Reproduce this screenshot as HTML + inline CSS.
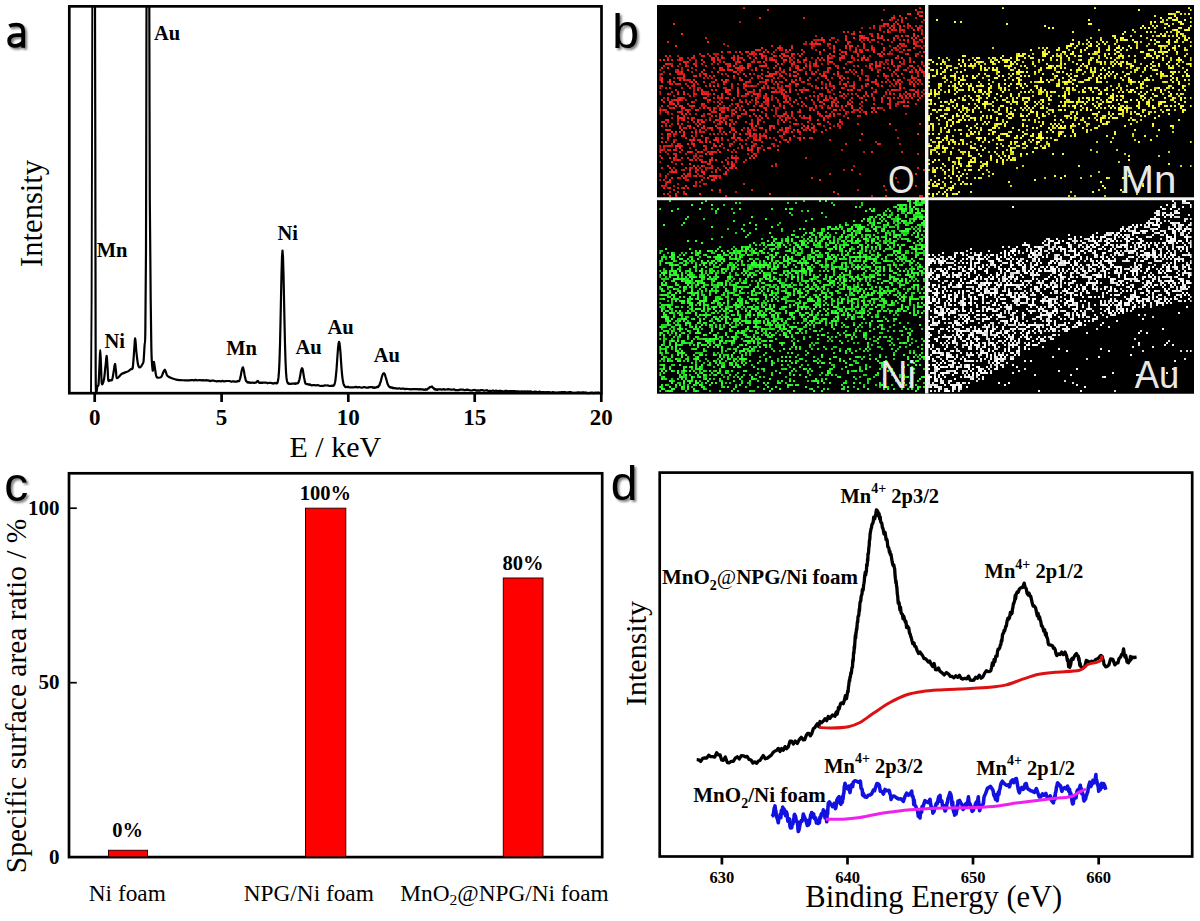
<!DOCTYPE html>
<html><head><meta charset="utf-8"><title>Figure</title>
<style>html,body{margin:0;padding:0;background:#fff;width:1200px;height:921px;overflow:hidden}svg{display:block}</style>
</head><body><svg width="1200" height="921" viewBox="0 0 1200 921"><g id="pa"><path d="M91.0 392.5L91.6 300.0L92.0 150.0L92.3 6.5" fill="none" stroke="#000" stroke-width="1.9" stroke-linejoin="round"/><path d="M95.0 6.5C95.0 30.4 95.2 96.1 95.3 150.0C95.4 203.9 95.5 290.1 95.6 330.0C95.7 369.9 95.6 380.3 95.9 389.6C96.2 398.9 97.0 387.0 97.5 386.0C98.0 385.0 98.3 387.1 98.6 383.6C98.9 380.1 99.2 370.6 99.5 365.0C99.8 359.4 100.0 350.0 100.2 350.0C100.5 350.0 100.7 359.4 101.0 365.0C101.3 370.6 101.3 381.2 101.8 383.6C102.3 386.0 103.4 382.2 104.0 379.3C104.6 376.4 105.0 369.9 105.5 366.0C106.0 362.1 106.4 355.6 106.7 355.9C107.0 356.2 107.3 363.9 107.6 368.0C107.9 372.1 107.9 378.3 108.3 380.3C108.7 382.3 109.4 380.1 110.0 380.0C110.6 379.9 111.5 381.1 112.1 379.8C112.7 378.5 113.1 374.6 113.6 372.0C114.1 369.4 114.5 364.2 114.9 364.0C115.3 363.8 115.7 368.6 116.0 371.0C116.3 373.4 116.0 377.7 117.0 378.2C118.0 378.7 120.0 375.0 121.9 373.8C123.8 372.6 126.9 371.9 128.4 371.1C129.9 370.3 130.3 369.6 131.0 369.0C131.7 368.4 132.3 370.5 132.8 367.3C133.3 364.1 133.8 354.8 134.2 350.0C134.6 345.2 134.8 338.2 135.2 338.5C135.6 338.8 135.9 347.6 136.4 352.0C136.9 356.4 137.5 362.6 138.2 365.1C138.9 367.7 139.7 367.5 140.4 367.3C141.1 367.1 142.0 365.1 142.5 364.0C143.0 362.9 143.2 364.0 143.6 360.8C143.9 357.6 144.3 349.7 144.6 345.0C144.9 340.3 145.1 348.4 145.3 332.6C145.5 316.8 145.8 304.4 146.0 250.0C146.2 195.7 146.4 47.1 146.5 6.5" fill="none" stroke="#000" stroke-width="2.2" stroke-linejoin="round"/><path d="M149.3 6.5C149.4 38.8 149.6 151.1 149.8 200.0C150.0 248.9 150.4 275.8 150.7 300.0C150.9 324.2 151.1 334.9 151.3 345.0C151.5 355.1 151.6 357.0 151.8 360.8C152.0 364.6 152.2 366.4 152.4 368.0C152.6 369.6 152.7 371.3 152.9 370.6C153.1 369.9 153.2 365.4 153.4 364.0C153.6 362.6 153.7 361.6 153.9 361.9C154.1 362.2 154.3 364.3 154.6 366.0C154.9 367.7 155.2 370.1 155.5 372.0C155.8 373.9 155.8 376.2 156.7 377.1C157.6 378.0 159.9 377.8 161.0 377.1C162.1 376.4 162.4 374.3 163.0 373.0C163.6 371.7 164.3 369.5 164.8 369.5C165.3 369.5 165.8 371.9 166.2 373.0C166.6 374.1 166.6 375.1 167.5 376.0C168.4 376.9 170.3 377.6 171.9 378.2C173.5 378.8 175.1 379.4 177.3 379.8C179.5 380.2 183.7 380.2 185.0 380.3L185.0 380.3L186.5 380.3L188.0 380.3L189.5 380.3L191.0 380.1L192.5 380.0L194.0 380.4L195.5 379.9L197.0 380.3L198.5 380.2L200.0 380.0L201.5 380.4L203.0 380.1L204.5 380.5L206.0 380.2L207.5 380.3L209.0 380.6L210.5 381.1L212.0 380.5L213.5 380.6L215.0 381.0L216.5 381.4L218.0 381.1L219.5 381.0L221.0 381.5L222.5 380.8L224.0 381.5L225.5 381.1L227.0 381.0L228.5 381.0L230.0 381.2L231.5 381.7L233.0 381.2L234.5 381.6L236.0 381.7L236.5 381.5L237.0 381.6L237.5 381.2L238.0 381.1L238.5 381.1L239.0 381.2L239.5 380.2L240.0 378.8L240.5 377.1L241.0 374.4L241.5 371.5L242.0 369.5L242.5 367.9L243.0 367.4L243.5 369.0L244.0 371.4L244.5 374.5L245.0 377.1L245.5 378.9L246.0 381.0L246.5 381.2L247.0 381.9L247.5 382.5L248.0 382.1L248.5 382.5L249.0 382.1L249.5 382.7L250.0 382.8L250.5 382.6L251.0 382.9L252.5 382.5L254.0 382.8L254.5 382.8L255.0 382.7L255.5 382.5L256.0 382.6L256.5 382.3L257.0 381.4L257.5 381.3L258.0 380.9L258.5 381.9L259.0 382.3L259.5 383.0L260.0 383.0L260.5 382.6L261.0 382.8L261.5 383.0L262.0 382.5L262.5 382.9L263.0 382.6L264.5 382.6L266.0 382.6L267.5 383.3L269.0 382.8L270.5 382.9L272.0 383.1L273.5 383.6L275.0 382.9L275.5 383.2L276.0 383.3L276.5 383.5L277.0 383.2L277.5 382.7L278.0 380.6L278.5 377.4L279.0 371.1L279.5 360.8L280.0 344.6L280.5 322.3L281.0 297.5L281.5 273.9L282.0 256.7L282.5 250.6L283.0 257.1L283.5 274.0L284.0 297.5L284.5 322.6L285.0 344.2L285.5 360.7L286.0 371.8L286.5 377.9L287.0 381.0L287.5 382.7L288.0 383.4L288.5 383.1L289.0 383.9L289.5 383.9L290.0 384.0L290.5 383.9L292.0 383.6L293.5 383.7L295.0 383.4L295.5 383.9L296.0 383.4L296.5 383.4L297.0 383.5L297.5 383.3L298.0 383.2L298.5 382.3L299.0 381.0L299.5 379.3L300.0 376.7L300.5 373.9L301.0 370.7L301.5 369.3L302.0 368.2L302.5 368.7L303.0 371.0L303.5 374.1L304.0 377.2L304.5 379.6L305.0 382.2L305.5 383.6L306.0 383.8L306.5 384.2L307.0 384.0L307.5 384.1L308.0 384.4L308.5 384.3L309.0 384.9L309.5 384.3L310.0 384.3L311.5 385.3L313.0 385.1L314.5 385.0L316.0 385.5L317.5 385.0L319.0 385.5L320.5 386.0L322.0 385.9L323.5 385.8L325.0 385.4L326.5 385.5L328.0 385.4L329.5 386.0L331.0 385.8L331.5 386.0L332.0 385.6L332.5 385.5L333.0 385.9L333.5 385.9L334.0 385.2L334.5 384.2L335.0 382.5L335.5 379.6L336.0 374.9L336.5 369.6L337.0 362.7L337.5 355.2L338.0 348.6L338.5 344.0L339.0 341.8L339.5 343.2L340.0 347.4L340.5 353.0L341.0 360.7L341.5 367.8L342.0 374.0L342.5 378.3L343.0 381.6L343.5 383.8L344.0 385.1L344.5 385.9L345.0 386.6L345.5 387.1L346.0 387.1L346.5 386.9L347.0 387.0L347.5 387.2L348.0 386.6L348.5 387.1L350.0 387.3L351.5 387.3L353.0 387.3L354.5 387.1L356.0 386.8L357.5 387.4L359.0 387.0L360.5 387.5L362.0 387.7L363.5 387.2L365.0 387.2L366.5 387.7L368.0 387.6L369.5 387.1L371.0 387.1L372.5 387.1L373.0 387.8L373.5 387.7L374.0 387.2L374.5 387.8L375.0 387.9L375.5 387.6L376.0 387.3L376.5 387.4L377.0 386.9L377.5 386.6L378.0 387.2L378.5 386.4L379.0 385.6L379.5 385.1L380.0 383.4L380.5 382.3L381.0 380.6L381.5 378.3L382.0 376.5L382.5 375.0L383.0 373.8L383.5 373.4L384.0 373.1L384.5 373.8L385.0 374.6L385.5 376.9L386.0 378.1L386.5 380.0L387.0 381.9L387.5 383.7L388.0 384.6L388.5 386.0L389.0 386.4L389.5 386.9L390.0 387.3L390.5 387.1L391.0 387.6L391.5 387.5L392.0 387.4L392.5 388.2L393.0 387.7L393.5 388.0L394.0 388.3L394.5 388.2L395.0 388.1L395.5 388.3L396.0 388.4L397.5 388.7L399.0 388.3L400.5 388.8L402.0 388.6L403.5 388.6L405.0 389.1L406.5 388.9L408.0 389.0L409.5 389.2L411.0 389.4L412.5 389.0L414.0 389.2L415.5 389.2L417.0 389.2L418.5 389.4L420.0 389.2L421.5 389.3L423.0 389.3L423.5 389.8L424.0 389.6L424.5 389.7L425.0 389.8L425.5 389.2L426.0 389.4L426.5 389.7L427.0 389.6L427.5 388.8L428.0 388.6L428.5 388.5L429.0 387.8L429.5 387.5L430.0 386.9L430.5 387.1L431.0 386.9L431.5 387.0L432.0 386.5L432.5 387.4L433.0 387.8L433.5 387.8L434.0 388.9L434.5 389.3L435.0 388.9L435.5 389.7L436.0 389.3L436.5 389.4L437.0 389.9L437.5 389.8L438.0 389.2L438.5 389.4L439.0 389.5L439.5 389.4L440.0 389.2L440.5 389.4L442.0 389.7L443.5 389.1L445.0 389.6L446.5 389.5L448.0 389.2L449.5 389.4L451.0 389.7L452.5 389.7L454.0 389.3L455.5 390.2L457.0 390.0L458.5 390.2L460.0 389.5L461.5 389.7L463.0 389.5L464.5 390.2L466.0 389.8L467.5 389.7L469.0 390.0L470.5 390.5L472.0 390.4L473.5 390.0L475.0 389.9L476.5 390.7L478.0 390.4L479.5 390.6L481.0 390.1L482.5 390.1L484.0 390.7L485.5 390.5L487.0 390.2L488.5 391.1L490.0 390.8L491.5 391.0L493.0 390.4L494.5 391.2L496.0 390.5L497.5 391.3L499.0 390.9L500.5 390.9L502.0 391.1L503.5 391.5L505.0 390.9L506.5 390.9L508.0 391.3L509.5 391.1L511.0 391.0L512.5 391.1L514.0 391.0L515.5 391.2L517.0 391.3L518.5 391.3L520.0 391.8L521.5 391.4L523.0 391.6L524.5 391.4L526.0 391.5L527.5 391.3L529.0 391.5L530.5 391.3L532.0 392.0L533.5 391.9L535.0 391.6L536.5 391.9L538.0 392.3L539.5 391.6L541.0 392.3L542.5 392.0L544.0 392.1L545.5 392.4L547.0 392.0L548.5 392.2L550.0 392.4L551.5 392.7L553.0 392.1L554.5 392.6L556.0 392.5L557.5 392.5L559.0 392.3L560.5 392.3L562.0 392.0L563.5 392.1L565.0 392.1L566.5 392.7L568.0 392.3L569.5 392.2L571.0 392.2L572.5 392.9L574.0 392.9L575.5 392.8L577.0 392.5L578.5 392.4L580.0 392.5L581.5 392.7L583.0 392.4L584.5 392.7L586.0 392.6L587.5 393.2L589.0 393.2L590.5 392.9L592.0 392.6L593.5 393.3L595.0 392.7L596.5 392.8L598.0 392.5L599.5 392.9" fill="none" stroke="#000" stroke-width="2.2" stroke-linejoin="round"/><rect x="69.3" y="6.35" width="532.2" height="386.85" fill="none" stroke="#000" stroke-width="2.7"/><line x1="94.7" y1="393" x2="94.7" y2="402" stroke="#000" stroke-width="2.7"/><line x1="221.6" y1="393" x2="221.6" y2="402" stroke="#000" stroke-width="2.7"/><line x1="348.3" y1="393" x2="348.3" y2="402" stroke="#000" stroke-width="2.7"/><line x1="474.7" y1="393" x2="474.7" y2="402" stroke="#000" stroke-width="2.7"/><line x1="601.3" y1="393" x2="601.3" y2="402" stroke="#000" stroke-width="2.7"/><g font-family='"Liberation Serif", serif' font-weight="bold" font-size="23" text-anchor="middle"><text x="94.7" y="424.5">0</text><text x="221.6" y="424.5">5</text><text x="348.3" y="424.5">10</text><text x="474.7" y="424.5">15</text><text x="601.3" y="424.5">20</text></g><text x="335.3" y="456.8" font-family='"Liberation Serif", serif' font-size="30" text-anchor="middle">E / keV</text><text transform="translate(42.3 213.4) rotate(-90)" font-family='"Liberation Serif", serif' font-size="30.6" text-anchor="middle">Intensity</text><g font-family='"Liberation Serif", serif' font-weight="bold" font-size="20.5"><text x="154.0" y="39.7">Au</text><text x="96.7" y="257.4">Mn</text><text x="104.4" y="347.8">Ni</text><text x="226.2" y="354.8">Mn</text><text x="277.5" y="240.3">Ni</text><text x="295.5" y="354.4">Au</text><text x="327.5" y="334.4">Au</text><text x="373.8" y="361.9">Au</text></g></g><defs><filter id="bl" x="0" y="0" width="100%" height="100%"><feGaussianBlur stdDeviation="0.55"/></filter></defs><rect x="657" y="5" width="537" height="388.5" fill="#000"/><g filter="url(#bl)"><path d="M743 8h2m174 0h2M915 10h2M921 12h2M907 14h4m6 0h2M899 16h2m18 0h4M759 18h2m132 0h2m10 0h2M673 24h2m208 0h2m2 0h2m8 0h2M891 26h2m6 0h2M889 28h2m2 0h2m22 0h2M891 30h2m20 0h2m2 0h2M843 32h2m42 0h2M681 34h2m170 0h2m22 0h2m34 0h2M859 36h4m8 0h2m8 0h2m18 0h2m4 0h2m4 0h2m2 0h2M853 38h2m6 0h6m10 0h2m2 0h2m10 0h2m16 0h2m2 0h2M821 40h4m20 0h2m12 0h2m6 0h2m4 0h2m12 0h2m14 0h2m8 0h2m4 0h2M707 42h2m102 0h2M811 44h2m2 0h6m26 0h2m14 0h2m34 0h2m12 0h2M675 46h2m156 0h2m10 0h2m2 0h4m44 0h2M761 48h2m14 0h4m10 0h2m40 0h2m10 0h2m24 0h2m10 0h2m28 0h2M755 50h4m26 0h2m2 0h2m32 0h2m30 0h2m2 0h2m6 0h2m4 0h2m28 0h2M721 52h2m16 0h2m4 0h4m14 0h2m2 0h2m50 0h2m12 0h2m6 0h2m2 0h2m8 0h2m4 0h2m10 0h2m48 0h2M751 54h2m6 0h4m18 0h2m8 0h2m8 0h2m26 0h2m14 0h2m32 0h2m2 0h2m22 0h2M665 56h2m94 0h2m10 0h2m4 0h2m2 0h2m14 0h2m26 0h2m86 0h2m4 0h2M711 58h4m6 0h2m26 0h2m4 0h2m24 0h2m6 0h2m26 0h2m8 0h2m10 0h2m22 0h2m30 0h2m4 0h2M659 60h2m2 0h2m2 0h2m10 0h2m20 0h2m30 0h2m8 0h2m20 0h2m4 0h4m8 0h4m10 0h2m4 0h4m12 0h2m40 0h2m2 0h2M683 62h2m28 0h2m24 0h2m22 0h2m10 0h2m52 0h4m16 0h2m24 0h2m14 0h2m6 0h2m12 0h2M665 64h2m26 0h2m82 0h2m2 0h2m8 0h2m22 0h2m54 0h2m18 0h2M671 66h2m22 0h2m32 0h2m2 0h2m12 0h2m12 0h6m8 0h2m28 0h2m2 0h2m58 0h2m4 0h6m18 0h2m8 0h4M661 68h2m4 0h2m50 0h2m16 0h2m4 0h2m2 0h2m6 0h2m22 0h2m16 0h2m4 0h2m24 0h2m6 0h2m4 0h2M687 70h2m14 0h2m18 0h2m4 0h4m8 0h2m12 0h2m32 0h2m8 0h2m48 0h2m10 0h2m8 0h2m22 0h2m8 0h2m8 0h2m2 0h2M681 72h2m18 0h2m14 0h2m14 0h4m38 0h2m6 0h2m8 0h2m42 0h2m16 0h2m20 0h2m14 0h2m14 0h2m10 0h2M703 74h2m38 0h2m4 0h2m18 0h2m2 0h2m30 0h2m6 0h2m8 0h2m12 0h2m44 0h2M683 76h2m10 0h2m16 0h2m18 0h2m32 0h6m8 0h2m6 0h2m2 0h4m26 0h4m58 0h2m10 0h2M661 78h2m76 0h2m20 0h2m36 0h2m24 0h2m12 0h2m2 0h2m14 0h2m50 0h2M661 80h2m6 0h2m8 0h2m2 0h2m8 0h2m20 0h2m4 0h2m2 0h2m14 0h2m22 0h4m16 0h2m8 0h2m10 0h2m58 0h2m6 0h2m16 0h2m4 0h2M661 82h2m6 0h2m2 0h2m16 0h2m2 0h2m6 0h2m18 0h4m48 0h2m14 0h4M743 84h2m20 0h2m10 0h2m10 0h2m4 0h4m30 0h2m12 0h2m22 0h2m26 0h2m2 0h2M693 86h2m14 0h2m2 0h2m2 0h2m26 0h2m4 0h2m32 0h2m58 0h2m18 0h2m14 0h2m30 0h2M761 88h2m4 0h2m48 0h2m2 0h2m2 0h2m6 0h2m6 0h2m10 0h2m16 0h2m26 0h2M697 90h2m2 0h2m22 0h6m6 0h2m20 0h2m28 0h2m14 0h4m38 0h2m2 0h2m38 0h2m18 0h2M657 92h2m24 0h2m40 0h2m10 0h2m10 0h2m20 0h4m10 0h2m2 0h2m10 0h2m36 0h2m34 0h2m28 0h2m8 0h2M667 94h2m8 0h2m4 0h2m16 0h2m2 0h2m6 0h2m6 0h2m6 0h2m14 0h4m4 0h2m2 0h2m6 0h2m76 0h2m20 0h2m4 0h2m16 0h2m22 0h2M783 96h2m56 0h2m14 0h2m4 0h2m2 0h2m30 0h2m4 0h2m2 0h2m10 0h2M679 98h4m20 0h4m14 0h2m40 0h2m24 0h2m14 0h2m18 0h2m8 0h2m14 0h2m8 0h2m18 0h2m4 0h2m12 0h2m8 0h2M661 100h2m12 0h2m2 0h2m28 0h2m20 0h2m22 0h2m10 0h2m16 0h2m24 0h2m10 0h2m40 0h2m22 0h2m26 0h2M663 102h2m4 0h2m20 0h2m48 0h2m40 0h2m2 0h2m4 0h2m6 0h2m16 0h2m10 0h2m28 0h2m40 0h2m2 0h2M673 104h2m26 0h2m16 0h2m26 0h2m74 0h2m22 0h4m22 0h2M675 106h2m2 0h4m10 0h2m42 0h2m20 0h4m10 0h2m30 0h2m8 0h2m14 0h2m2 0h2m8 0h2m4 0h2m50 0h2m2 0h2M673 108h2m6 0h4m18 0h2m2 0h2m12 0h4m2 0h2m6 0h2m46 0h2m66 0h2m6 0h2m10 0h2m4 0h2m10 0h2M659 110h2m2 0h2m20 0h2m8 0h2m12 0h2m22 0h2m8 0h2m6 0h4m2 0h2m6 0h2m42 0h2m2 0h2m18 0h4M679 112h2m6 0h2m32 0h2m12 0h2m54 0h2m6 0h2m64 0h2m4 0h2m2 0h2M681 114h2m2 0h2m32 0h2m12 0h2m48 0h2m48 0h2m30 0h2M677 116h2m22 0h2m46 0h2m8 0h2m4 0h2m14 0h2m4 0h2m10 0h2m24 0h2m2 0h2M679 118h4m36 0h2m16 0h2m22 0h2m46 0h2m12 0h2m22 0h2M667 120h2m14 0h2m6 0h2m4 0h2m16 0h2m6 0h2m56 0h2m2 0h2m30 0h2m4 0h2M663 122h2m32 0h2m2 0h4m20 0h2m30 0h2m24 0h2m22 0h2m18 0h2m10 0h2M677 124h2m20 0h2m24 0h2m2 0h2m2 0h2m16 0h2m4 0h2m36 0h2m20 0h4m68 0h2M689 126h2m6 0h2m4 0h2m10 0h2m12 0h2m20 0h2m2 0h2m12 0h4m30 0h2m2 0h2M679 128h2m12 0h2m6 0h2m6 0h4m34 0h2m10 0h4m6 0h2m2 0h2m10 0h4m12 0h2m4 0h2m2 0h2m16 0h2M665 130h4m12 0h2m50 0h2m6 0h2m36 0h2m4 0h2m10 0h2m10 0h2M671 132h2m2 0h2m2 0h2m2 0h2m10 0h2m32 0h2m4 0h2m48 0h2m4 0h2m20 0h2m6 0h2M667 134h4m12 0h2m40 0h2m6 0h2m4 0h2m8 0h2m2 0h2m28 0h2m76 0h2m54 0h2M657 136h2m24 0h2m6 0h2m8 0h2m30 0h2m14 0h2m14 0h2M667 138h2m36 0h2m8 0h2m4 0h2m8 0h4m2 0h2m20 0h2m28 0h2m8 0h2m2 0h2M689 140h2m2 0h2m10 0h2m8 0h2m38 0h2m2 0h2m24 0h2M661 142h2m10 0h2m30 0h2m2 0h2m76 0h2M687 144h2m4 0h2m26 0h2M675 146h6m22 0h2m10 0h2m2 0h2m8 0h2M679 148h2m30 0h2m34 0h2m8 0h2m8 0h4M657 150h2m14 0h2m52 0h2m18 0h2m2 0h2m4 0h2m18 0h2M659 152h2m26 0h4m6 0h2m2 0h2m8 0h2m6 0h2m150 0h2M705 154h2m2 0h2M675 156h2m74 0h2M661 158h2m6 0h2m2 0h2m36 0h2m18 0h4m14 0h2m2 0h2M677 160h2m12 0h2m16 0h2m4 0h2M701 162h2m6 0h2M681 164h2m6 0h2m40 0h2M667 166h2m24 0h2m6 0h2m28 0h4M669 168h2m24 0h2m28 0h2m4 0h2m2 0h2M689 170h2m160 0h2M657 172h2m12 0h6m18 0h2m4 0h4m20 0h2M703 174h2m20 0h2m188 0h2M681 176h2m2 0h2m8 0h2m12 0h8M671 178h2m10 0h2m22 0h2m6 0h2M669 180h2m30 0h2m8 0h4m104 0h2M667 182h2M685 186h2m6 0h2M669 188h2m12 0h2m2 0h2M711 190h2m6 0h2M833 192h2M675 194h2m8 0h2m12 0h2m68 0h2M669 196h2m214 0h2m32 0h2" stroke="#f82020" stroke-width="2" fill="none"/><path d="M683 6h2m14 0h2M767 10h2M803 18h2m86 0h2M881 20h2m6 0h2m10 0h2M895 22h2m4 0h2M885 24h2m6 0h2m12 0h2M873 26h2m8 0h2m18 0h2m4 0h2m4 0h2M879 28h2m18 0h2m18 0h2M879 30h2m6 0h2m6 0h2m2 0h6m16 0h2M847 32h2m10 0h2M921 34h2M845 36h2m30 0h2m16 0h2M705 38h2m114 0h2m8 0h2m12 0h2m20 0h2m54 0h2M817 40h2m10 0h2m40 0h2m10 0h2m8 0h2m12 0h2M667 42h2m154 0h2m10 0h2m10 0h4m62 0h2m6 0h2M813 44h2m12 0h4m72 0h2m10 0h2M771 46h2m18 0h2m64 0h2m4 0h2m36 0h2m2 0h2m8 0h2M811 48h2m36 0h2m12 0h2m28 0h4m24 0h2M759 50h2m4 0h2m34 0h2m36 0h2m42 0h2m6 0h2m14 0h4M729 52h2m4 0h2m14 0h4m18 0h2m28 0h2m76 0h2M749 54h2m4 0h2m26 0h2m8 0h2m62 0h2m18 0h2m8 0h2m28 0h2M669 56h2m22 0h2m6 0h4m4 0h2m22 0h2m2 0h2m24 0h2m20 0h4m2 0h2m40 0h2m6 0h4m6 0h2m4 0h2m4 0h2m14 0h4m14 0h2M667 58h2m10 0h4m8 0h4m22 0h2m12 0h4m2 0h2m2 0h2m18 0h2m2 0h2m4 0h2m48 0h2m6 0h2m10 0h4m6 0h2m8 0h2m46 0h2M671 60h2m38 0h4m2 0h2m18 0h2m30 0h2m52 0h2m2 0h2m10 0h2m16 0h2m8 0h2m22 0h2m16 0h2M685 62h4m14 0h2m18 0h2m12 0h2m12 0h4m2 0h4m28 0h2m2 0h2m4 0h2m14 0h2m92 0h2m10 0h2M667 64h4m8 0h2m4 0h2m14 0h2m22 0h6m4 0h2m10 0h4m14 0h2m26 0h2m18 0h2m60 0h2m2 0h2M663 66h2m20 0h2m18 0h2m20 0h2m12 0h2m6 0h2m8 0h2m36 0h2m16 0h2m18 0h2m16 0h2m2 0h2m34 0h2m2 0h2m24 0h2M721 68h2m12 0h2m2 0h4m30 0h2m14 0h2m4 0h2m12 0h2m16 0h2m40 0h2m12 0h2m12 0h2m14 0h2m4 0h2M677 70h2m40 0h4m4 0h2m32 0h2m16 0h2m28 0h2m16 0h2m68 0h2M675 72h4m88 0h2m26 0h2m18 0h2m10 0h2m16 0h2m64 0h2m4 0h2m4 0h2M661 74h2m6 0h2m6 0h6m16 0h2m4 0h2m14 0h2m14 0h2m22 0h2m8 0h2m2 0h2m2 0h2m8 0h2m6 0h2m12 0h2m6 0h2m12 0h2m60 0h2m4 0h2M693 76h2m4 0h2m4 0h2m2 0h2m16 0h2m16 0h2m10 0h2m6 0h2m54 0h2m42 0h2m44 0h2m4 0h2M657 78h2m18 0h4m2 0h2m18 0h2m6 0h2m38 0h2m20 0h2m34 0h2m102 0h2M659 80h2m26 0h2m38 0h2m42 0h2m26 0h2m26 0h2m58 0h2m8 0h2m18 0h4M713 82h2m30 0h6m8 0h2m4 0h2m14 0h2m20 0h2m16 0h2m24 0h2m22 0h6m4 0h2m2 0h2m10 0h2m12 0h2M669 84h4m2 0h6m4 0h2m6 0h2m28 0h2m32 0h2m80 0h2m4 0h2m6 0h2m20 0h4m30 0h2m2 0h2m2 0h2M661 86h2m24 0h2m16 0h2m24 0h2m30 0h2m22 0h2m22 0h2m20 0h2m16 0h4m6 0h2M659 88h2m8 0h2m10 0h2m6 0h2m32 0h2m12 0h2m4 0h2m18 0h2m6 0h2M675 90h2m34 0h2m2 0h2m36 0h2m26 0h4m10 0h2m2 0h4m24 0h2m30 0h2m32 0h4m16 0h2M659 92h2m10 0h2m4 0h2m22 0h4m22 0h2m46 0h2m4 0h2m46 0h2m34 0h2m18 0h2m30 0h2M657 94h2m34 0h4m6 0h2m2 0h2m28 0h2m16 0h2m24 0h4m34 0h4m28 0h2m40 0h2m4 0h2m6 0h4m6 0h2M689 96h2m30 0h2m14 0h2m2 0h2m14 0h2m6 0h2m42 0h2m2 0h2m2 0h2m2 0h2m60 0h2M657 98h2m8 0h2m44 0h2m2 0h2m6 0h4m4 0h2m20 0h2m10 0h2m14 0h2m46 0h2m10 0h2m28 0h2m18 0h2m24 0h2M667 100h2m4 0h2m2 0h2m28 0h2m30 0h2m24 0h2m10 0h2m16 0h2m20 0h2m6 0h4m4 0h2m14 0h2m30 0h2M671 102h2m4 0h2m38 0h2m2 0h2m22 0h2m2 0h2m6 0h2m4 0h2m2 0h2m52 0h2m10 0h2m2 0h2m8 0h2m2 0h2m28 0h2m6 0h2m10 0h2M669 104h4m4 0h2m8 0h2m14 0h2m26 0h2m4 0h2m16 0h2m10 0h2m10 0h2m16 0h2m4 0h2m26 0h2m2 0h2m50 0h4m6 0h2m16 0h2M661 106h2m4 0h2m20 0h4m24 0h2m22 0h2m10 0h2m24 0h2m2 0h2m6 0h2m8 0h2m38 0h2m46 0h2M669 108h2m42 0h2m48 0h4m42 0h4m8 0h2m6 0h2m42 0h2M657 110h2m6 0h2m20 0h2m8 0h2m14 0h2m4 0h2m6 0h2m20 0h2m48 0h2m42 0h2m8 0h2m2 0h2m14 0h2M659 112h2m6 0h2m8 0h2m32 0h6m6 0h2m20 0h2m14 0h2m54 0h2m6 0h2m24 0h2m6 0h2M689 114h2m16 0h4m30 0h2m2 0h2m6 0h2m10 0h2m18 0h2m4 0h2m24 0h4m8 0h2m14 0h2M683 116h2m26 0h2m2 0h2m2 0h2m4 0h4m8 0h4m14 0h2m20 0h2m12 0h2m10 0h2m4 0h2m10 0h2m4 0h2m4 0h2m22 0h2M657 118h2m18 0h2m4 0h2m2 0h2m2 0h4m26 0h2m44 0h2m10 0h2m4 0h2m2 0h2m12 0h4M665 120h2m10 0h2m22 0h2m6 0h2m6 0h2m10 0h2m20 0h2m4 0h4m34 0h2m12 0h2m28 0h2M661 122h2m30 0h2m18 0h2m4 0h4m12 0h2m8 0h2M665 124h2m14 0h2m36 0h2m72 0h2m42 0h2m18 0h2m60 0h2M661 126h2m6 0h2m8 0h2m6 0h2m124 0h2M657 128h2m24 0h4m2 0h2m12 0h2m12 0h6m8 0h2m80 0h2m24 0h2M669 130h2m28 0h2m10 0h2m6 0h2m10 0h2m16 0h2m2 0h2m10 0h2m14 0h2m10 0h2m8 0h2m20 0h2M657 132h2m32 0h2m6 0h2m2 0h2m18 0h2m22 0h4m14 0h2m10 0h2m18 0h4M673 134h2m38 0h2m30 0h2m12 0h2M667 136h2m12 0h2m72 0h2m2 0h2m2 0h2m14 0h2m12 0h2M661 138h2m22 0h2m6 0h2m44 0h2m6 0h2m4 0h2m10 0h2m2 0h2m38 0h4M691 140h2m4 0h4m12 0h2m2 0h2m8 0h2m6 0h2m4 0h2m2 0h2m28 0h2m12 0h2m8 0h2m28 0h2M665 142h2m32 0h4m14 0h2m32 0h2m8 0h2m16 0h2M677 144h2m12 0h2m20 0h2m16 0h2m22 0h2m88 0h2m30 0h4M659 146h2m2 0h2m2 0h4m10 0h2m10 0h2m18 0h2m26 0h2m8 0h4m18 0h2M705 148h2m34 0h2m8 0h2M659 150h4m4 0h4m4 0h2m4 0h2m34 0h2m30 0h2m12 0h2M679 152h2m10 0h2m14 0h2m4 0h4m14 0h2m2 0h2m164 0h2M673 154h4m34 0h2m40 0h2m162 0h2M657 156h4m34 0h2m34 0h2m22 0h2M681 158h2m4 0h2m46 0h4m66 0h2M673 160h2m14 0h2m4 0h2m2 0h2m10 0h2m12 0h2m8 0h2m8 0h2M671 162h2m32 0h2m14 0h2m4 0h2m2 0h2m10 0h2M707 164h4m16 0h2m46 0h2M711 166h2m58 0h2M661 168h2m22 0h2m2 0h2m20 0h2m16 0h2m186 0h2M671 170h2m2 0h2m6 0h2m12 0h2m16 0h2m10 0h2m194 0h2M715 172h2M683 174h2m2 0h4m138 0h2M659 176h2m4 0h2m22 0h2m8 0h2m18 0h2M677 178h2m40 0h2m90 0h2m82 0h2M657 180h4m2 0h2m22 0h2M669 182h2m24 0h2M665 184h2m36 0h2m38 0h2M661 186h2m220 0h2m30 0h2M663 188h2m12 0h2M673 190h2m76 0h2m146 0h2M677 192h2m4 0h2M663 194h2m2 0h2m168 0h2M675 196h2m48 0h2m194 0h2" stroke="#e01a1a" stroke-width="2" fill="none"/><path d="M869 6h2M883 10h2M917 12h4M893 16h2M901 18h2m12 0h2M891 20h2m4 0h2m24 0h2M739 22h2m180 0h2M879 26h4m4 0h2m4 0h2m12 0h2m10 0h4M861 28h2m6 0h2m2 0h2m32 0h2m2 0h2M893 30h2M853 32h2m28 0h2m4 0h2m8 0h2m2 0h2m16 0h2M851 34h2m16 0h4M815 36h2m46 0h2m32 0h2m6 0h2M833 38h2m24 0h2m18 0h2m16 0h2M813 40h4m2 0h2m16 0h2m24 0h2m34 0h2m20 0h2M805 42h2m8 0h2m44 0h2m6 0h2m6 0h2m12 0h2m14 0h2m6 0h4M723 44h2m78 0h4m2 0h2m70 0h2m18 0h2M727 46h2m50 0h2m30 0h4m12 0h2m42 0h2m16 0h2m12 0h2m12 0h4m2 0h2M781 48h2m46 0h2m24 0h2m16 0h2m24 0h2M775 50h2m2 0h4m32 0h2m16 0h2m14 0h2m10 0h2m2 0h2m4 0h2m22 0h4M727 52h2m56 0h4m54 0h2m8 0h2m4 0h2m28 0h2m8 0h4m16 0h2M699 54h2m6 0h2m4 0h6m22 0h2m10 0h2m16 0h2m24 0h2m20 0h2m18 0h2m48 0h4m12 0h2m8 0h2M677 56h2m36 0h2m4 0h2m24 0h2m4 0h2m10 0h2m8 0h2m54 0h2m36 0h2M687 58h2m34 0h2m14 0h2m28 0h2m22 0h2m10 0h2m4 0h2m18 0h2m20 0h2m12 0h2m28 0h2M677 60h2m2 0h2m6 0h2m4 0h2m22 0h2m32 0h2m20 0h2m12 0h4m22 0h2m36 0h2m30 0h4m14 0h2M657 62h2m36 0h2m22 0h2m14 0h2m46 0h2m12 0h2m4 0h2m4 0h2m16 0h2m18 0h2m2 0h2m26 0h4m2 0h2m16 0h2M671 64h2m22 0h2m14 0h2m4 0h2m86 0h2m2 0h2m10 0h2m4 0h2m4 0h2m10 0h2m22 0h2m12 0h2m2 0h2m12 0h4m16 0h2M677 66h2m8 0h2m50 0h2m50 0h2m2 0h2m16 0h2m2 0h2m18 0h2m26 0h2m50 0h2M681 68h2m8 0h2m20 0h2m12 0h2m38 0h2m102 0h2m2 0h2m10 0h2m18 0h2M657 70h4m14 0h2m4 0h2m12 0h2m40 0h4m10 0h2m30 0h2m12 0h2m2 0h2m14 0h2m34 0h2m22 0h4m8 0h2m12 0h2m6 0h2m8 0h2M663 72h2m14 0h2m10 0h2m18 0h2m26 0h2m36 0h2m2 0h2m22 0h2m4 0h2m10 0h4m20 0h2m2 0h2m8 0h2m52 0h2M659 74h2m22 0h2m40 0h2m26 0h2m30 0h2m66 0h2m6 0h2m28 0h2m24 0h2m4 0h2M657 76h4m98 0h2m18 0h2m56 0h6m14 0h2m8 0h2m8 0h2m4 0h2m2 0h2m2 0h2m30 0h2M659 78h2m12 0h2m6 0h2m24 0h2m24 0h2m22 0h2m18 0h2m4 0h2m32 0h2m12 0h2m14 0h2m18 0h2m16 0h2m16 0h2m10 0h2M685 80h2m2 0h2m48 0h2m8 0h2m40 0h2m22 0h2m24 0h2m16 0h2m4 0h2m40 0h4m2 0h2M667 82h2m20 0h2m20 0h2m48 0h4m6 0h2m6 0h2m20 0h2m26 0h2m8 0h2m12 0h2m34 0h2m4 0h2m4 0h2m6 0h2m4 0h2m2 0h2M657 84h2m38 0h2m10 0h2m6 0h2m12 0h2m4 0h2m6 0h2m26 0h2m32 0h4m10 0h2m2 0h2m38 0h2m24 0h2m28 0h2M659 86h2m30 0h2m50 0h2m2 0h4m2 0h4m10 0h2m8 0h2m2 0h2m6 0h2m4 0h2m18 0h2m8 0h2m2 0h4m16 0h2m26 0h2m10 0h2m2 0h2m4 0h2M657 88h2m6 0h2m26 0h2m2 0h4m24 0h2m4 0h2m40 0h2m2 0h6m6 0h2m12 0h2m10 0h2m26 0h2m16 0h2m40 0h2M693 90h2m50 0h2m28 0h2m2 0h2m22 0h2m26 0h2m16 0h2m6 0h2m16 0h2m10 0h2m8 0h4m8 0h2m6 0h2m4 0h2M693 92h2m10 0h4m38 0h2m2 0h4m4 0h2m16 0h4m32 0h2m12 0h2m44 0h2m14 0h2m30 0h2M659 94h2m8 0h2m16 0h2m20 0h2m16 0h2m30 0h2m36 0h2m34 0h2m12 0h2m6 0h2m28 0h2m16 0h2m18 0h2M657 96h2m14 0h2m18 0h2m12 0h2m8 0h2m24 0h4m4 0h2m6 0h2m2 0h2m6 0h2m12 0h4m36 0h2m2 0h2m8 0h2m4 0h2m24 0h2m28 0h2m10 0h2m2 0h2M663 98h2m12 0h2m4 0h2m34 0h2m36 0h2m6 0h2m4 0h2m2 0h2m8 0h2m12 0h2m16 0h2m10 0h2m28 0h2m28 0h2m6 0h2m6 0h4M671 100h2m8 0h2m2 0h2m8 0h2m22 0h2m24 0h2m4 0h2m18 0h2m16 0h2m44 0h2m36 0h2m28 0h2M693 102h2m12 0h2m4 0h2m24 0h2m14 0h2m8 0h2m10 0h2m6 0h2m26 0h2m82 0h4M657 104h2m76 0h2m24 0h2m2 0h2m22 0h2m22 0h2m44 0h2m34 0h2M701 106h6m16 0h2m4 0h2m36 0h2m50 0h4m4 0h2m8 0h2m22 0h2m32 0h2m8 0h2M659 108h2m10 0h2m18 0h2m6 0h2m8 0h2m4 0h2m2 0h2m4 0h2m12 0h2m34 0h4m36 0h2m10 0h2m12 0h2m36 0h4M661 110h2m18 0h2m6 0h2m30 0h4m6 0h2m6 0h2m30 0h2m2 0h2m62 0h2m14 0h2m4 0h2m20 0h2M665 112h2m14 0h2m48 0h2m42 0h2m8 0h2m10 0h2m32 0h2m12 0h4m4 0h2m8 0h2M659 114h2m6 0h2m2 0h2m22 0h2m6 0h2m26 0h2m10 0h2m30 0h2m60 0h4m64 0h2M703 116h2m26 0h2m40 0h2m4 0h2m2 0h2m34 0h2m22 0h2m14 0h2M671 118h2m36 0h2m12 0h4m30 0h2m28 0h2m4 0h2m6 0h2m4 0h2m18 0h2M681 120h2m16 0h2m4 0h2m12 0h2m10 0h2m44 0h2M667 122h2m8 0h2m8 0h2m42 0h2m18 0h2m10 0h2m12 0h2m10 0h2m50 0h2M657 124h2m12 0h2m22 0h2m20 0h2m30 0h2m26 0h2m18 0h2m2 0h2m8 0h2m16 0h2m10 0h2M657 126h2m6 0h2m106 0h2m14 0h2m32 0h2m8 0h2m2 0h4M707 128h2m24 0h2m8 0h2m6 0h4m26 0h2m6 0h2m14 0h2M695 130h2m8 0h2m40 0h2m6 0h2m12 0h2m16 0h2m16 0h2m6 0h4m78 0h2M701 132h2m16 0h2m62 0h2m2 0h2M661 134h2m12 0h2m18 0h2m12 0h2m6 0h2m2 0h2m24 0h2m6 0h2m6 0h2m34 0h2M669 136h2m2 0h2m20 0h2m54 0h4m6 0h2m18 0h2M707 138h2m8 0h2m36 0h2m16 0h2m6 0h2m14 0h2m98 0h2M667 140h2m4 0h4m44 0h2m16 0h2m12 0h2m2 0h2m24 0h2m74 0h2M657 142h2m32 0h2m40 0h2m140 0h2M671 144h2m6 0h2m48 0h2m8 0h2m4 0h2m6 0h2m16 0h4m124 0h2M657 146h2m6 0h2m4 0h2m32 0h2m54 0h2m14 0h2M659 148h2m2 0h2m10 0h2m12 0h2m32 0h2m12 0h2m20 0h2M663 150h2m30 0h2m6 0h4m26 0h2m106 0h2M665 152h2m32 0h2m8 0h2m40 0h2m4 0h2m104 0h2M667 154h2m16 0h2m8 0h2m50 0h2m6 0h2M693 156h2m4 0h4m32 0h2M675 158h2m16 0h2m2 0h2m28 0h2M675 160h2m2 0h2m20 0h2M659 162h2m42 0h2m30 0h2M675 164h2m56 0h2M697 166h2m4 0h2m18 0h2m50 0h2m76 0h2M657 168h2m14 0h2m16 0h2m6 0h2m4 0h6m6 0h2M681 170h2m12 0h2m4 0h2m2 0h2m12 0h2m122 0h2M669 172h2m18 0h2m20 0h2M659 174h2m6 0h2m28 0h2m24 0h2m134 0h2M687 176h2m4 0h2m6 0h2m14 0h2M665 178h2m12 0h2m4 0h2m16 0h2m8 0h2M685 180h2M657 182h2m6 0h2m32 0h2m196 0h2M657 184h2m18 0h2m16 0h2m8 0h2M663 186h4m6 0h2m20 0h2m2 0h2M667 188h2m12 0h2M857 190h2m26 0h2M669 192h2m48 0h2m14 0h2M683 194h2M871 196h2" stroke="#c01616" stroke-width="2" fill="none"/><path d="M1002 8h2m90 0h2m92 0h2M1138 10h2M1176 12h2m14 0h2M1168 14h2m18 0h2M1174 16h2M1160 18h2M936 20h2m150 0h2m84 0h2m8 0h2M954 22h2m194 0h2m2 0h2m22 0h4m8 0h2M1006 24h2m80 0h4m74 0h2m12 0h2M1044 26h2m96 0h2m24 0h2m20 0h2M1048 28h2m2 0h2m86 0h2m6 0h2M1174 30h4m8 0h2M1124 32h2m20 0h2M1122 34h2m56 0h2M1158 36h2m2 0h4M1114 38h2m4 0h4m60 0h2M1124 40h2m6 0h2m16 0h2m16 0h2m16 0h2M1102 42h2m30 0h2m22 0h2m14 0h2M1070 44h4m16 0h2m12 0h2M1068 46h2m20 0h2m4 0h2m30 0h2m28 0h2m18 0h2M1066 48h2m18 0h2m28 0h4m2 0h2m48 0h4M1030 50h2m24 0h2m50 0h2m4 0h2m36 0h2m14 0h2M1042 52h2m20 0h2m6 0h2m6 0h2m16 0h2m40 0h2m16 0h2m4 0h4m8 0h2M1018 54h2m24 0h4m22 0h4m14 0h2m18 0h2m4 0h2m30 0h2m6 0h2M962 56h2m54 0h2m24 0h2m20 0h2m12 0h2m22 0h2m44 0h2M978 58h2m12 0h2m6 0h2m8 0h2m4 0h2m32 0h2m8 0h2m6 0h2m74 0h2m10 0h2m4 0h2m14 0h2M958 60h2m14 0h2m30 0h2m8 0h2m162 0h2M942 62h2m18 0h2m16 0h2m10 0h2m4 0h2m6 0h2m2 0h2m110 0h2m44 0h2M940 64h2m90 0h2m42 0h2m4 0h2m16 0h2m12 0h2m2 0h2m38 0h2m6 0h2m8 0h2m12 0h2M960 66h2m2 0h2m14 0h2m22 0h2m18 0h2m22 0h4m4 0h2m54 0h2m6 0h2m8 0h4m12 0h2m42 0h4M940 68h2m50 0h2m14 0h2m38 0h2m4 0h2m4 0h2m32 0h2m6 0h2m4 0h2m34 0h2m4 0h2m18 0h2M932 70h2m10 0h2m4 0h2m32 0h2m6 0h2m96 0h2m62 0h2m30 0h2M960 72h2m36 0h2m16 0h2m2 0h2m4 0h2m6 0h2m22 0h2m2 0h2m30 0h2m12 0h2m2 0h2m56 0h2m2 0h2M940 74h2m70 0h2m52 0h2m32 0h2m4 0h2m8 0h2m44 0h2m8 0h2m12 0h2M928 76h2m24 0h2m6 0h2m8 0h2m24 0h2m2 0h2m16 0h2m6 0h2m26 0h2m18 0h2m46 0h2m44 0h2m14 0h4M928 78h2m14 0h2m12 0h2m12 0h4m18 0h4m18 0h2m22 0h2m28 0h2m16 0h2m6 0h2m2 0h2m26 0h2m42 0h2M960 80h4m40 0h2m12 0h2m20 0h2m16 0h2m14 0h2m10 0h2m8 0h2m32 0h2m12 0h4m36 0h2M958 82h2m78 0h6m4 0h2m14 0h2m30 0h2m2 0h2m28 0h2m6 0h2M962 84h2m2 0h2m20 0h2m14 0h2m10 0h2m6 0h2m32 0h2m12 0h2m66 0h2m36 0h2M960 86h2m6 0h4m4 0h2m4 0h2m24 0h2m10 0h2m34 0h2m18 0h2m104 0h2M972 88h2m14 0h2m14 0h2m10 0h2m4 0h2m12 0h2m30 0h2m2 0h2m10 0h2m2 0h4m44 0h2m20 0h2m12 0h2M968 90h2m2 0h2m6 0h2m6 0h2m14 0h2m34 0h2m56 0h2m4 0h2m6 0h2m16 0h4m20 0h2m4 0h2m22 0h2M934 92h2m12 0h2m24 0h2m4 0h2m2 0h2m4 0h2m10 0h2m20 0h2m2 0h2m20 0h2m2 0h2m26 0h2m38 0h2m6 0h2m2 0h2m24 0h2M928 94h4m2 0h2m60 0h2m66 0h2m2 0h2m30 0h2m4 0h2m62 0h2M928 96h2m58 0h2m20 0h2m52 0h2m44 0h2m4 0h2m4 0h2m18 0h2m10 0h2M970 98h2m22 0h2m20 0h2m4 0h2m4 0h2m34 0h2m20 0h2m4 0h2m2 0h2m14 0h2m30 0h2m18 0h2m6 0h2m6 0h2M928 100h4m18 0h2m2 0h2m22 0h2m62 0h2m4 0h2m38 0h2m2 0h2m18 0h2m2 0h2m2 0h2m8 0h2m4 0h2m42 0h2M944 102h2m32 0h2m4 0h4m18 0h2m8 0h2m8 0h2m6 0h2m6 0h2m32 0h2m4 0h2m24 0h4m12 0h2m12 0h2m8 0h2m10 0h2m2 0h2M934 104h2m20 0h2m24 0h4m38 0h2m58 0h2m6 0h2m6 0h2m36 0h2m18 0h2m18 0h2m12 0h2M940 106h2m20 0h2m20 0h2m40 0h2m30 0h2m14 0h2m4 0h2m12 0h2m16 0h2m22 0h2m10 0h2m2 0h2m16 0h2m10 0h2m6 0h2M964 108h2m12 0h2m26 0h2m24 0h2m8 0h2m30 0h2m10 0h2m8 0h2m6 0h2m4 0h2m2 0h2m2 0h2m4 0h2m12 0h2m12 0h2m26 0h2M934 110h2m2 0h2m8 0h2m8 0h2m38 0h2m6 0h2m52 0h2m24 0h2m2 0h2m28 0h2m4 0h2m38 0h2m14 0h2M960 112h2m10 0h2m56 0h4m64 0h2m34 0h2M956 114h2m40 0h4m8 0h2m24 0h2m4 0h2m32 0h2m14 0h2m18 0h2m4 0h2m18 0h2m8 0h2m18 0h2M940 116h4m8 0h2m2 0h2m24 0h2m6 0h2m28 0h4m18 0h2m22 0h2m76 0h2m12 0h2M928 118h2m14 0h2m6 0h2m16 0h2m2 0h2m14 0h2m4 0h2m12 0h2m58 0h2m30 0h2m4 0h2m2 0h2m2 0h2m36 0h2M928 120h2m28 0h2m4 0h2m8 0h2m84 0h2m38 0h2m30 0h2M946 122h2m4 0h2m4 0h2m24 0h2m20 0h2m34 0h2m40 0h2m20 0h2M930 124h2m44 0h2m18 0h2m74 0h2m4 0h2m22 0h2m2 0h2m44 0h2M928 126h2m2 0h2m12 0h2m2 0h2m14 0h2m36 0h2m16 0h2m16 0h2m14 0h2m2 0h2m2 0h2m4 0h2m52 0h2m44 0h2M944 128h2m24 0h2m4 0h2m14 0h4m36 0h2m14 0h2m12 0h2m18 0h2M980 130h2m68 0h2m106 0h2M948 132h2m20 0h2m2 0h2m16 0h2m16 0h2m10 0h2m28 0h2m18 0h2M960 134h2m40 0h6m24 0h2m40 0h2m38 0h2M946 136h2m18 0h2m38 0h2m8 0h2m4 0h2m14 0h4m22 0h2m8 0h2m68 0h2M946 138h2m30 0h4m2 0h2m28 0h2m4 0h2m14 0h8M942 140h2m16 0h2m16 0h2m18 0h2m32 0h2m20 0h2m136 0h2M938 142h2m48 0h2m46 0h4m98 0h2m50 0h2M948 144h2m72 0h2M928 146h4m6 0h2m86 0h2M942 148h6m24 0h2m22 0h2m44 0h4M976 150h2m4 0h2m26 0h2M930 152h2m18 0h2m42 0h2m36 0h2M1020 154h2m4 0h2m24 0h2m8 0h2M968 156h2m20 0h2m12 0h2M960 158h2m28 0h2m16 0h2M934 160h2m66 0h2m6 0h2m2 0h2m112 0h2M932 162h2m18 0h2m4 0h2m10 0h2m14 0h2m8 0h2m4 0h2M942 164h2m14 0h2m8 0h2m16 0h2M960 166h2m6 0h2M956 168h2M934 170h2m12 0h2m18 0h2m8 0h2M934 172h2m8 0h2M952 174h2M956 176h2m2 0h2m92 0h2m8 0h2M944 178h2m160 0h2m14 0h2M938 180h2m18 0h2m74 0h2M934 182h2m14 0h2m148 0h2M938 184h2m20 0h2M936 186h2m164 0h2m38 0h2m48 0h2M928 188h2m10 0h2m8 0h4M950 190h2m168 0h2M944 192h2m146 0h2M928 194h2m2 0h2m12 0h2m8 0h2M946 196h2" stroke="#ffff2a" stroke-width="2" fill="none"/><path d="M1190 10h2M1170 14h2m8 0h2M1154 16h2M1168 18h4m4 0h2m12 0h2M1172 20h2m2 0h2M960 22h2m198 0h2M1182 24h2M1152 26h2m2 0h2M1144 28h2m8 0h2m8 0h2m12 0h4m6 0h2M1132 30h2m50 0h2m2 0h2M1072 32h2m76 0h2m14 0h2m10 0h2M1160 34h2m14 0h2m14 0h2M1112 36h4m24 0h2m34 0h2m4 0h2M1178 38h2m8 0h2M1072 40h2m26 0h2m14 0h2m2 0h2m4 0h2m26 0h2m20 0h2m6 0h2M1078 42h2m8 0h2m46 0h2m18 0h2m8 0h4m20 0h2M1098 44h2m14 0h2m38 0h2m12 0h2M1066 46h2m2 0h2m4 0h2m40 0h2m40 0h4m26 0h4M1046 48h2m10 0h2m14 0h2m32 0h2m20 0h2m4 0h2M1044 50h2m34 0h2m2 0h2m12 0h2m20 0h2m4 0h2m20 0h4m32 0h2M1048 52h2m12 0h2m30 0h2m20 0h4m22 0h2m10 0h2m4 0h2M1022 54h4m16 0h2m50 0h2m8 0h2m42 0h2m12 0h2M964 56h2m36 0h2m12 0h2m2 0h4m4 0h2m12 0h2m8 0h2m4 0h2m14 0h2m2 0h2m38 0h6m4 0h2m4 0h2m10 0h2m8 0h4m24 0h2M938 58h2m36 0h2m46 0h2m4 0h4m56 0h2m14 0h2m2 0h2m10 0h2m28 0h2M928 60h4m30 0h2m32 0h2m4 0h4m2 0h2m28 0h2m2 0h2m12 0h2m22 0h2m8 0h2m4 0h2m16 0h2m46 0h2m12 0h4M932 62h2m42 0h4m10 0h2m12 0h2m8 0h2m72 0h2m10 0h2m2 0h2m10 0h2m8 0h2m6 0h2m16 0h2M936 64h2m20 0h2m4 0h2m4 0h2m2 0h2m16 0h2m16 0h4m2 0h2m28 0h2m12 0h2m2 0h2m22 0h2m30 0h2m4 0h4m20 0h2m36 0h2M946 66h2m20 0h6m34 0h4m68 0h2m4 0h2m64 0h2m4 0h2m8 0h2M928 68h2m16 0h2m32 0h2m2 0h2m10 0h2m42 0h2m4 0h2m2 0h2m12 0h2m20 0h2m84 0h2M964 70h2m20 0h2m6 0h4m12 0h2m6 0h2m20 0h2m28 0h2m4 0h6m18 0h2m2 0h2m28 0h4m6 0h2m10 0h2M936 72h2m4 0h2m74 0h2m2 0h2m66 0h2m68 0h2m22 0h2M928 74h2m6 0h2m40 0h2m4 0h2m32 0h2m22 0h2m8 0h2m72 0h4m26 0h2m2 0h2M932 76h2m16 0h4m12 0h2m20 0h2m34 0h2m42 0h2m4 0h2m16 0h2m4 0h2m4 0h2m2 0h2m4 0h2m44 0h2m4 0h2m14 0h2M954 78h2m106 0h2m40 0h2m8 0h2m4 0h2m24 0h2m28 0h2M988 80h2m22 0h2m32 0h2m20 0h2m18 0h2m32 0h2m4 0h2m18 0h2m20 0h2m4 0h2M978 82h2m38 0h2m46 0h4m10 0h4m48 0h2m30 0h2m6 0h2m4 0h2M938 84h4m12 0h2m2 0h2m38 0h2m10 0h2m6 0h2m44 0h2m76 0h2M928 86h2m18 0h2m4 0h2m24 0h2m8 0h2m6 0h2m26 0h2m8 0h2m20 0h2m80 0h2m26 0h2M938 88h2m16 0h2m42 0h2m38 0h2m24 0h2m26 0h4m8 0h2m8 0h2m2 0h2m18 0h2m24 0h2m14 0h2M934 90h2m12 0h2m4 0h2m2 0h2m2 0h2m14 0h2m50 0h2m12 0h2m20 0h2m14 0h2m6 0h2M938 92h2m16 0h2m82 0h2m4 0h2m36 0h2m6 0h2m6 0h2m16 0h2m8 0h2m10 0h2m4 0h2m20 0h2M936 94h2m16 0h2m26 0h2m2 0h2m22 0h2m6 0h2m18 0h2m6 0h2m50 0h2m12 0h2m24 0h2m4 0h2m6 0h2m22 0h2m2 0h2M968 96h2m6 0h4m20 0h2m44 0h2m14 0h2m48 0h2m6 0h2m18 0h2m14 0h2m10 0h2M958 98h2m2 0h2m22 0h2m18 0h2m16 0h4m20 0h2m32 0h2m14 0h2m10 0h2m72 0h2M962 100h4m6 0h2m2 0h2m24 0h2m8 0h2m8 0h2m4 0h2m36 0h2m10 0h2m26 0h2m34 0h2m28 0h2M940 102h2m10 0h2m38 0h2m18 0h4m44 0h2m2 0h2m2 0h6m12 0h2m14 0h2m22 0h2m18 0h2m14 0h2m10 0h2m8 0h2M930 104h2m16 0h2m18 0h2m16 0h2m48 0h2m26 0h2m52 0h2m26 0h4m10 0h2M952 106h2m2 0h2m18 0h2m14 0h2m6 0h4m30 0h2m6 0h2m18 0h4m6 0h2m24 0h2m8 0h2m12 0h2m40 0h4m6 0h2m4 0h2M928 108h2m16 0h2m6 0h2m10 0h2m6 0h2m34 0h2m8 0h2m6 0h2m10 0h2m78 0h2m4 0h2m26 0h2M932 110h2m6 0h2m4 0h2m24 0h2m14 0h2m2 0h2m20 0h2m6 0h2m28 0h2m10 0h2m14 0h2m36 0h2m2 0h2m18 0h2m24 0h2m14 0h2M980 112h2m54 0h2m14 0h2m18 0h2m48 0h2m18 0h2m10 0h2m6 0h2m18 0h2M964 114h2m42 0h2m2 0h2m14 0h2m64 0h4m10 0h2m10 0h2m8 0h2m4 0h2M928 116h2m32 0h2m2 0h2m38 0h2m4 0h2m12 0h2m8 0h2m26 0h2m8 0h2m28 0h2m34 0h2M936 118h2m24 0h2m16 0h2m26 0h2m28 0h2m42 0h2m4 0h2m10 0h2m12 0h2M948 120h4m8 0h2m6 0h2m26 0h2m24 0h2m10 0h2m18 0h2m18 0h2m20 0h2m30 0h2m48 0h2M956 122h2m30 0h2m110 0h2M946 124h2m4 0h2m32 0h2m10 0h4m2 0h2m16 0h2m18 0h2m6 0h2m2 0h2m74 0h2M994 126h2m30 0h2m24 0h2m98 0h2m18 0h2M928 128h2m2 0h2m78 0h2m22 0h2m20 0h4m2 0h2m28 0h4M948 130h2m8 0h2m28 0h4m26 0h2m52 0h2m12 0h2m46 0h2M994 132h2m44 0h2m4 0h2m12 0h2m24 0h2m26 0h2M928 134h2m2 0h2m4 0h2m26 0h2m2 0h4m4 0h2m8 0h2m2 0h2m30 0h2m12 0h4m16 0h4M998 136h2m8 0h2m20 0h4m24 0h2m46 0h2M936 138h4m36 0h2m18 0h4m46 0h2M952 140h2m30 0h2m14 0h2m148 0h2M940 142h2m6 0h2m2 0h4m6 0h2m46 0h2m2 0h4m6 0h2m84 0h2M938 144h2m18 0h2m2 0h2m32 0h2m12 0h2m12 0h2m22 0h2M970 146h2m8 0h2m20 0h2m4 0h2m8 0h2m28 0h2M936 148h2m32 0h2m2 0h2m34 0h2m22 0h4M934 150h2m8 0h2M960 152h2m2 0h2m2 0h2m32 0h2m8 0h2M938 154h2m28 0h2m8 0h2M980 156h2m16 0h2m8 0h2m118 0h2M956 158h4m12 0h4m24 0h2m10 0h2M938 160h2m30 0h2m2 0h2m20 0h2M968 162h2m2 0h4m4 0h2M928 164h2m54 0h2m182 0h2M952 166h2m28 0h2m94 0h2m68 0h2M936 168h2m2 0h2m38 0h2M964 170h2m4 0h2M932 172h2m18 0h2m4 0h2M962 174h2m18 0h2m8 0h2M1128 176h2M950 178h2m22 0h2m2 0h2m80 0h2M928 182h2m32 0h2m44 0h2M932 184h2m10 0h2m20 0h2m2 0h2M932 186h4m16 0h2M1104 188h2M946 190h2M958 192h2m10 0h2m176 0h2M936 194h2m4 0h2m8 0h2M932 196h2" stroke="#f0f024" stroke-width="2" fill="none"/><path d="M1178 12h2M1172 14h4m8 0h2M1162 20h2m2 0h2m24 0h2M1162 22h2M1150 24h2m12 0h2m6 0h2M1098 30h2m72 0h2m18 0h2M1134 32h2m18 0h2m14 0h2m4 0h2M1164 34h2m16 0h2M1130 36h2m20 0h2m2 0h2m10 0h2m2 0h2m10 0h2M1090 38h2m8 0h2m44 0h2M1086 40h2m34 0h2m68 0h2M1096 42h2m8 0h2m8 0h2m22 0h2m34 0h2m4 0h2M1078 44h2m2 0h2m2 0h2m48 0h2m10 0h2M1088 46h2m18 0h2m26 0h2m8 0h2m16 0h4m6 0h2M992 48h2m44 0h2m2 0h2m54 0h2m60 0h2m2 0h2m18 0h2M1058 50h2m8 0h2m36 0h2m52 0h2m12 0h2m10 0h2M1044 52h2m50 0h2m64 0h2M1016 54h2m14 0h2m22 0h2m2 0h2m2 0h2m26 0h2m2 0h2m22 0h2m54 0h2m8 0h2M1056 56h2m2 0h2m36 0h2m48 0h2m16 0h2M946 58h2m24 0h2m14 0h2m4 0h2m96 0h2m4 0h2m16 0h4m50 0h2m18 0h2M942 60h2m4 0h2m18 0h2m20 0h2m2 0h2m22 0h2m30 0h2m8 0h2m6 0h2m8 0h2m8 0h2m44 0h2m34 0h2m18 0h4M944 62h2m36 0h2m38 0h2m8 0h2m4 0h2m20 0h2m10 0h2m22 0h4m10 0h4m6 0h2m56 0h2m2 0h2M928 64h2m14 0h2m32 0h2m4 0h2m8 0h2m108 0h2m4 0h2m18 0h2m8 0h2m44 0h2M948 66h4m22 0h2m30 0h2m12 0h2m12 0h2m16 0h2m4 0h4m22 0h2m68 0h2m16 0h2m4 0h2M954 68h4m14 0h2m14 0h2m24 0h2m10 0h2m50 0h2m10 0h2m34 0h2m2 0h2m4 0h4m28 0h2m12 0h2M930 70h2m4 0h2m42 0h2m30 0h2m24 0h2m14 0h2m38 0h2m56 0h2M944 72h2m10 0h2m38 0h2m40 0h2m16 0h2m18 0h2m6 0h2m6 0h2m28 0h2m6 0h2m2 0h2m6 0h2m28 0h2m4 0h2M954 74h2m40 0h2m10 0h2m6 0h2m16 0h2m34 0h2m10 0h2m8 0h2m16 0h2M934 76h2m8 0h2m30 0h2m8 0h2m22 0h2m42 0h2m84 0h2m8 0h2m10 0h4m26 0h2M942 78h2m18 0h2m18 0h2m24 0h2m8 0h2m34 0h2m34 0h2m68 0h2M946 80h2m6 0h2m8 0h2m54 0h2m28 0h4m18 0h2m10 0h2m66 0h2m34 0h2M928 82h2m14 0h2m4 0h2m40 0h2m36 0h2m2 0h4m20 0h2m2 0h2m6 0h2m6 0h2m18 0h2m6 0h2m20 0h2m4 0h2m6 0h2m18 0h2m2 0h2M970 84h2m8 0h2m38 0h2m34 0h2m8 0h2m50 0h2m10 0h2m56 0h2M938 86h4m10 0h2m24 0h2m54 0h2m74 0h2m6 0h2m6 0h2m18 0h2m22 0h2m12 0h2M954 88h2m12 0h2m20 0h2m6 0h2m62 0h2m78 0h2m10 0h4m10 0h2M930 90h2m8 0h2m18 0h2m38 0h2m6 0h2m28 0h2m28 0h2m2 0h4m30 0h2m12 0h2m4 0h2m22 0h2m12 0h2m12 0h2M930 92h2m12 0h2m32 0h2m8 0h2m30 0h2m10 0h2m4 0h2m2 0h2m8 0h2m10 0h2m2 0h2m8 0h2M938 94h2m48 0h2m50 0h2m120 0h2m18 0h2M934 96h2m28 0h2m52 0h2m12 0h2m16 0h2m6 0h2m110 0h2m6 0h2M938 98h2m38 0h4m30 0h2m64 0h2m8 0h2m18 0h2m12 0h2m16 0h2m8 0h2m22 0h2m14 0h2M996 100h2m6 0h2m34 0h2m8 0h2m16 0h2m30 0h2m46 0h2m2 0h2m16 0h2M930 102h2m14 0h2m2 0h2m56 0h2m14 0h2m12 0h2m26 0h2m10 0h4m14 0h2m8 0h2m50 0h2M928 104h2m44 0h2m12 0h4m18 0h2m4 0h2m22 0h2m6 0h2m26 0h2m20 0h2M942 106h2m124 0h2m50 0h2m4 0h2m10 0h2m18 0h2M948 108h2m12 0h2m20 0h2m12 0h2m24 0h2m20 0h2m34 0h2m16 0h2m26 0h4M944 110h2m16 0h2m2 0h4m56 0h2m2 0h2m16 0h4m6 0h2m84 0h2m14 0h2m12 0h2M936 112h2m28 0h2m26 0h4m8 0h2m2 0h2m34 0h2m22 0h2m4 0h2m30 0h2m16 0h2m2 0h2m16 0h4M930 114h2m12 0h4m72 0h2m26 0h2m20 0h2m50 0h2M958 116h2m8 0h2m16 0h2m56 0h2m8 0h2m12 0h2m26 0h2m4 0h2m6 0h2m10 0h2M972 118h2m12 0h2m78 0h2m6 0h4m16 0h2m8 0h2m24 0h2M938 120h2m40 0h2m20 0h2m20 0h2m2 0h2m50 0h4m50 0h2m4 0h2M1002 122h2m30 0h2m2 0h2m22 0h2m44 0h2m26 0h2M932 124h2m4 0h2m42 0h2m10 0h2m62 0h2m26 0h4m14 0h2M974 126h2m20 0h2m74 0h4m10 0h2m10 0h2M940 128h2m38 0h2m16 0h2m52 0h4m14 0h2m100 0h2M928 130h2m2 0h2m6 0h2m12 0h2m4 0h2m6 0h2m56 0h2m62 0h2M940 132h2m4 0h2m30 0h2m28 0h2m48 0h2m2 0h2m108 0h2M1000 134h2m24 0h2m104 0h2M952 136h2m14 0h2m100 0h2m60 0h2m22 0h2M944 138h2m70 0h2m32 0h2m60 0h2M930 140h2m14 0h2m2 0h2m10 0h2m28 0h2m8 0h2m24 0h2m10 0h2m14 0h2m76 0h2M932 142h4m34 0h2m10 0h2m46 0h2m14 0h2m48 0h2M928 144h2m24 0h2m10 0h2m6 0h2m24 0h2m12 0h2m20 0h2m8 0h2M936 146h2m4 0h2m72 0h2m22 0h2m2 0h2M934 148h2m2 0h2m12 0h2m30 0h2m26 0h4m6 0h4M930 150h4m24 0h2m46 0h2m82 0h2m24 0h2M936 152h2m4 0h4m16 0h2m24 0h2m20 0h2m84 0h2m70 0h2M930 154h2m18 0h2m10 0h2m32 0h2m4 0h2m6 0h4m110 0h2M970 156h2m48 0h2m136 0h2M948 158h2m64 0h2M928 160h2m18 0h2m8 0h2m30 0h2m14 0h2m4 0h2M954 162h2m162 0h2M954 164h2m4 0h2m20 0h2m18 0h2M944 166h2m20 0h2m2 0h2m8 0h2m4 0h2m34 0h2m156 0h2m8 0h2M932 168h2m18 0h2m62 0h2M928 170h2m2 0h2m8 0h2m8 0h2m32 0h2m140 0h2M988 172h2m108 0h2M944 174h2m20 0h2M934 176h2m12 0h2m38 0h2m100 0h2M958 178h2m6 0h2m12 0h2m62 0h2m34 0h2m26 0h2M930 180h2M942 182h2M928 184h2m6 0h2m16 0h2m8 0h2m176 0h2M944 186h2m64 0h2M942 188h2m4 0h2M1098 190h2M938 192h2m130 0h2m50 0h2M954 194h2m180 0h2M1068 196h2m4 0h2m28 0h2" stroke="#d4d41c" stroke-width="2" fill="none"/><path d="M819 201h2m4 0h2m88 0h2m6 0h2M701 203h2m212 0h2m6 0h2M691 205h2m18 0h2m186 0h2m2 0h2m10 0h2m2 0h2M855 207h2m38 0h2m12 0h2m2 0h2M659 209h2m38 0h2m16 0h2m20 0h2m44 0h2m4 0h2m76 0h2m28 0h4m2 0h2m4 0h2m2 0h2M671 211h2m192 0h2m4 0h2m16 0h2m12 0h2m6 0h2m8 0h2M907 213h4m4 0h6M897 215h2M751 217h2m118 0h2m8 0h2m6 0h2m24 0h2m2 0h4M811 219h2m50 0h2m4 0h2m26 0h2m14 0h2M861 221h2m34 0h2m2 0h4m18 0h2M683 223h2m64 0h2m126 0h2m8 0h2m32 0h4M663 225h2m90 0h2m88 0h2m8 0h2m2 0h2m12 0h2m12 0h2m34 0h2M711 227h2m58 0h2m56 0h2m4 0h2m2 0h2m10 0h2m6 0h4M803 229h2m8 0h2m12 0h2m2 0h2m4 0h2m18 0h6m10 0h4m6 0h2m20 0h4M847 231h2m4 0h2m14 0h2m4 0h2m4 0h2m18 0h4m2 0h2m10 0h2M769 233h2m34 0h2m4 0h2m8 0h2m4 0h2m14 0h2m6 0h2m6 0h2m52 0h2m2 0h2M791 235h2m20 0h2m36 0h2m2 0h2m38 0h4m18 0h2M771 237h2m24 0h2m10 0h2m30 0h2m2 0h2m22 0h2m6 0h2m14 0h4m18 0h2M775 239h2m14 0h2m34 0h2m22 0h2m4 0h2m4 0h4m6 0h2m10 0h2m2 0h2M687 241h2m6 0h2m70 0h2m4 0h2m12 0h2m2 0h2m8 0h2m8 0h2m2 0h2m26 0h2m10 0h2m2 0h2m6 0h2m2 0h2m20 0h2M701 243h2m50 0h2m16 0h2m6 0h2m14 0h2m4 0h4m2 0h2m10 0h2m12 0h2m40 0h4m6 0h2m26 0h2M769 245h6m4 0h2m2 0h2m12 0h2m2 0h2m24 0h2m18 0h2m10 0h2m6 0h2m18 0h2m8 0h2m4 0h2m16 0h2M741 247h2m42 0h2m12 0h2m32 0h2m4 0h2m2 0h2m12 0h2m6 0h2m4 0h2m2 0h2m12 0h2m18 0h4m8 0h2M665 249h2m78 0h4m24 0h2m18 0h2m16 0h2m14 0h6m2 0h2m12 0h2m10 0h2m16 0h2m18 0h2m12 0h4m4 0h2M699 251h2m6 0h2m6 0h2m4 0h2m4 0h2m4 0h2m10 0h2m6 0h2m4 0h4m8 0h2m16 0h2m20 0h2m4 0h2m30 0h2m14 0h2m26 0h4m18 0h2M657 253h4m10 0h2m24 0h2m24 0h2m8 0h2m4 0h2m12 0h4m6 0h2m10 0h2m36 0h2m10 0h2m20 0h2m4 0h2m2 0h4m16 0h2m18 0h4M657 255h2m12 0h4m8 0h2m20 0h2m10 0h4m4 0h2m20 0h2m22 0h2m2 0h2m8 0h2m22 0h2m16 0h2m2 0h2m12 0h2m44 0h2m10 0h2M709 257h2m4 0h2m2 0h2m8 0h2m8 0h2m26 0h2m4 0h2m8 0h2m2 0h2m2 0h2m18 0h2m4 0h2m10 0h2m2 0h2m8 0h2m8 0h2m2 0h4m4 0h2m2 0h2m6 0h2m6 0h2m12 0h2m14 0h2M671 259h2m6 0h4m8 0h2m4 0h2m22 0h2m12 0h2m12 0h2m16 0h2m2 0h2m10 0h2m2 0h6m10 0h2m4 0h2m2 0h2m10 0h2m8 0h2m2 0h2m24 0h2m6 0h4m18 0h2m14 0h2M659 261h2m24 0h2m14 0h2m4 0h2m4 0h2m4 0h2m2 0h2m16 0h2m10 0h2m8 0h2m18 0h2m2 0h2m4 0h4m16 0h2m4 0h2m32 0h2m10 0h2m6 0h2m10 0h2m22 0h2M659 263h2m4 0h2m2 0h2m32 0h4m4 0h2m2 0h2m34 0h4m14 0h2m8 0h2m8 0h2m6 0h2m2 0h2m2 0h4m6 0h2m28 0h2m24 0h2m38 0h2m4 0h2M671 265h2m2 0h2m8 0h2m16 0h2m28 0h2m8 0h2m6 0h18m32 0h2m18 0h2m4 0h2m12 0h2m30 0h2m18 0h2m6 0h2M705 267h2m42 0h2m8 0h2m2 0h2m8 0h2m2 0h2m6 0h2m8 0h2m10 0h4m24 0h2m18 0h6m6 0h2m10 0h2m2 0h2m34 0h2M701 269h2m18 0h4m24 0h2m24 0h2m26 0h2m2 0h4m34 0h2m10 0h2m2 0h2m20 0h2m4 0h2m6 0h2m14 0h2M657 271h2m12 0h2m2 0h2m2 0h2m18 0h2m42 0h2m16 0h2m24 0h2m10 0h6m6 0h2m14 0h2m16 0h2m2 0h2m26 0h2m10 0h2m8 0h2m2 0h2m6 0h2m8 0h2M661 273h6m8 0h2m24 0h2m8 0h2m10 0h2m20 0h2m12 0h2m2 0h2m8 0h2m8 0h2m4 0h2m4 0h2m52 0h2m44 0h2m14 0h2m4 0h2M663 275h2m4 0h2m4 0h2m4 0h2m4 0h2m26 0h2m32 0h2m14 0h2m2 0h2m14 0h2m22 0h2m32 0h2m34 0h2m24 0h4m8 0h2M677 277h2m10 0h2m2 0h2m8 0h2m4 0h2m6 0h2m8 0h4m20 0h2m10 0h2m4 0h2m22 0h2m2 0h2m18 0h2m10 0h2m6 0h2m12 0h2m4 0h2m6 0h2m4 0h4m14 0h2m18 0h2M673 279h6m2 0h4m6 0h2m14 0h2m2 0h2m2 0h2m28 0h2m18 0h2m24 0h2m18 0h2m22 0h2m2 0h2m2 0h2m14 0h2m16 0h2m10 0h2m4 0h4m6 0h2M673 281h2m6 0h2m4 0h4m4 0h4m2 0h2m10 0h2m44 0h2m8 0h2m6 0h2m28 0h2m8 0h2m8 0h2m4 0h2m8 0h4m38 0h2m12 0h4m2 0h2M661 283h2m2 0h2m8 0h2m8 0h2m2 0h2m6 0h2m2 0h4m16 0h2m14 0h2m4 0h2m12 0h2m4 0h2m14 0h2m48 0h4m4 0h2m28 0h2m8 0h2m2 0h2m6 0h2M661 285h4m22 0h2m8 0h2m22 0h2m2 0h2m6 0h2m50 0h2m2 0h2m16 0h2m6 0h2m26 0h2m22 0h2m44 0h2m2 0h2M669 287h2m12 0h4m16 0h2m12 0h2m20 0h2m6 0h2m8 0h2m4 0h2m18 0h2m22 0h2m14 0h2m18 0h2m2 0h2m8 0h2m16 0h2m2 0h2M661 289h2m10 0h2m36 0h2m12 0h2m6 0h2m18 0h2m40 0h2m12 0h2m6 0h2m30 0h2m8 0h2m4 0h2m26 0h2m14 0h2M657 291h2m24 0h2m6 0h2m8 0h2m22 0h2m12 0h2m10 0h4m6 0h2m4 0h2m2 0h2m20 0h2m2 0h2m8 0h2m28 0h2m40 0h2m2 0h2M669 293h2m4 0h2m2 0h2m8 0h4m2 0h4m32 0h2m26 0h2m10 0h2m14 0h2m10 0h4m20 0h2m6 0h2m18 0h2m10 0h2m2 0h2m2 0h2m8 0h2m6 0h2m14 0h2M661 295h2m2 0h2m4 0h4m18 0h2m40 0h2m14 0h2m10 0h2m4 0h2m22 0h2m10 0h2m12 0h2m4 0h2m18 0h2m6 0h2m6 0h2m4 0h2m2 0h2m22 0h2M673 297h2m4 0h2m8 0h2m14 0h2m58 0h2m6 0h2m28 0h2m10 0h2m6 0h2m34 0h2m18 0h2m20 0h4m18 0h2M657 299h2m4 0h2m6 0h2m18 0h2m4 0h2m6 0h2m12 0h2m28 0h4m2 0h2m24 0h2m24 0h6m12 0h2m4 0h2m8 0h2m8 0h6m14 0h2m8 0h2m16 0h2m2 0h2m4 0h2m10 0h2M675 301h2m4 0h4m2 0h2m10 0h8m6 0h4m10 0h2m8 0h2m32 0h2m36 0h6m26 0h2m8 0h2m8 0h2m6 0h2m12 0h2m10 0h2m6 0h2m4 0h2M689 303h4m6 0h2m10 0h2m32 0h4m92 0h2m20 0h2m20 0h2m4 0h2m24 0h2m2 0h2M667 305h2m22 0h2m6 0h2m20 0h2m12 0h2m24 0h2m6 0h2m2 0h2m18 0h2m2 0h2m14 0h2m8 0h2m6 0h2m18 0h2m18 0h2m4 0h4m8 0h2m10 0h2m20 0h2M669 307h2m42 0h4m2 0h2m16 0h2m12 0h2m10 0h2m4 0h2m2 0h2m8 0h4m14 0h2m12 0h2m2 0h2m12 0h4m6 0h2m12 0h2m16 0h2m24 0h2m14 0h4M657 309h2m2 0h2m28 0h2m2 0h6m2 0h2m8 0h2m10 0h2m24 0h4m10 0h2m4 0h2m28 0h2m10 0h2m12 0h2m32 0h2m8 0h2m24 0h2m2 0h2m4 0h2M661 311h2m16 0h2m34 0h2m6 0h2m4 0h4m4 0h2m6 0h2m2 0h2m22 0h2m10 0h2m8 0h4m20 0h2m10 0h2m2 0h2m4 0h2m36 0h2m16 0h2m4 0h2M663 313h2m4 0h4m22 0h2m16 0h2m22 0h2m18 0h2m10 0h2m4 0h2m12 0h4m6 0h2m4 0h4m8 0h2m12 0h2m2 0h4m8 0h2m8 0h4m2 0h2m4 0h2m38 0h2m10 0h2M665 315h2m12 0h2m18 0h2m2 0h2m42 0h4m2 0h2m6 0h2m2 0h2m4 0h4m2 0h2m12 0h2m8 0h2m6 0h4m30 0h2m2 0h4m16 0h2M661 317h6m46 0h2m12 0h2m16 0h2m30 0h2m14 0h2m12 0h2m4 0h2m22 0h2m12 0h2m8 0h2m56 0h2M665 319h4m2 0h2m10 0h4m6 0h2m8 0h2m10 0h4m2 0h2m2 0h2m8 0h2m2 0h2m14 0h2m48 0h2m6 0h2m8 0h4m10 0h2m12 0h2m10 0h2m30 0h2M667 321h4m8 0h2m18 0h2m8 0h2m8 0h2m4 0h2m10 0h2m6 0h2m8 0h2m2 0h2m6 0h2m4 0h2m6 0h2m26 0h4m18 0h2m2 0h2m40 0h6m4 0h2M667 323h2m16 0h6m6 0h2m4 0h2m8 0h2m10 0h4m10 0h2m6 0h4m12 0h2m2 0h4m6 0h2m28 0h2m10 0h2m48 0h2M701 325h2m6 0h2m18 0h2m24 0h2m14 0h2m32 0h2m28 0h2m6 0h2m8 0h2m4 0h2m8 0h2m10 0h2m36 0h2M659 327h2m18 0h2m10 0h2m2 0h2m2 0h2m30 0h2m14 0h2m4 0h4m22 0h2m2 0h2m6 0h2m2 0h2m34 0h2m44 0h2m24 0h2M679 329h2m30 0h2m6 0h2m8 0h2m30 0h2m20 0h4m12 0h2m20 0h2m58 0h2M657 331h2m28 0h2m8 0h2m12 0h2m24 0h2m10 0h2m36 0h4m8 0h2m14 0h2m38 0h2m12 0h2M659 333h2m14 0h2m6 0h2m10 0h6m8 0h2m30 0h2m14 0h2m10 0h2m12 0h2m4 0h2m6 0h2m38 0h2M659 335h2m2 0h2m14 0h2m22 0h2m8 0h4m8 0h2m44 0h2m10 0h4m34 0h4m22 0h4m12 0h2m44 0h2M687 337h2m26 0h2m14 0h4m12 0h2m4 0h2m14 0h2m14 0h4m38 0h2m50 0h2m8 0h2m16 0h2M709 339h2m2 0h2m18 0h2m16 0h2m6 0h2m56 0h2m32 0h2m24 0h2M671 341h2m4 0h2m4 0h2m6 0h2m12 0h4m10 0h4m10 0h2m10 0h6m2 0h2m8 0h2m4 0h4m134 0h2m14 0h2M675 343h2m20 0h4m18 0h2m10 0h2m20 0h2m26 0h2m10 0h2m46 0h2m24 0h2m34 0h2M661 345h2m12 0h2m2 0h2m16 0h2m2 0h2m6 0h2m4 0h2m24 0h2m2 0h2m22 0h2m22 0h2M659 347h2m6 0h2m6 0h2m40 0h2m2 0h2m14 0h2m10 0h2m8 0h2m34 0h2m70 0h2M743 349h2m6 0h2m30 0h2m4 0h2m26 0h2m30 0h2m14 0h2M665 351h2m8 0h2m4 0h2m58 0h4m4 0h2m88 0h2M657 353h4m20 0h4m48 0h2m56 0h2m14 0h2m104 0h2M677 355h2m20 0h4m10 0h2m4 0h2m10 0h2m88 0h2m70 0h2m8 0h2m14 0h2M681 357h2m14 0h2m20 0h2m60 0h2m2 0h2m2 0h2m66 0h2m20 0h2m26 0h2m4 0h2m8 0h2M675 359h2m18 0h4m22 0h2m16 0h8m82 0h2m8 0h2m8 0h2m18 0h2m4 0h2m30 0h2M667 361h2m8 0h4m32 0h2m4 0h2m12 0h2m36 0h2m8 0h2m2 0h2m2 0h2m22 0h2m28 0h2m32 0h2m6 0h2m30 0h2M729 363h2m26 0h2m36 0h2m20 0h2m2 0h4m4 0h2m14 0h2m34 0h2m30 0h2M663 365h2m14 0h2m20 0h2m14 0h2m12 0h2m4 0h2m32 0h2m76 0h2m64 0h2M685 367h2m4 0h2m28 0h4m8 0h2m18 0h2m90 0h2m38 0h2M657 369h2m4 0h2m4 0h2m92 0h2m28 0h2m8 0h2m4 0h2m54 0h2M657 371h2m2 0h2m2 0h2m4 0h2m4 0h2m4 0h2m4 0h2m28 0h2m24 0h2m80 0h2m26 0h2m30 0h2M677 373h2m22 0h2m14 0h2m60 0h2m8 0h2m36 0h4m16 0h2m28 0h2M659 375h2m24 0h2m10 0h2m4 0h2m10 0h2m76 0h2m108 0h2M663 377h2m16 0h2m8 0h2m6 0h2m50 0h2m52 0h2m32 0h2m66 0h2m14 0h2M661 379h2m42 0h2m32 0h2m28 0h2m44 0h2m66 0h2m18 0h2m14 0h2M669 381h2m12 0h2m4 0h2m4 0h2m10 0h2m80 0h2m22 0h2m6 0h2M657 383h2m12 0h2m10 0h2m4 0h2m4 0h4m12 0h2m2 0h2m4 0h2m40 0h2m2 0h2m48 0h2m34 0h2m44 0h2m2 0h2m4 0h2M675 385h2m16 0h2m4 0h2m38 0h2m46 0h4m6 0h2m82 0h2M659 387h2m8 0h2m10 0h2m4 0h2m38 0h2m6 0h2m30 0h2m6 0h2m28 0h2m40 0h2m36 0h2m30 0h2M661 389h2m8 0h4m18 0h2m76 0h2m6 0h2m30 0h2m44 0h2m8 0h2m18 0h2m28 0h2M659 391h2m6 0h4m24 0h2m72 0h2m42 0h2m6 0h2m24 0h2m66 0h2M679 393h2m2 0h2m4 0h4m4 0h2m60 0h2m6 0h2m24 0h2m12 0h2" stroke="#30ff30" stroke-width="2" fill="none"/><path d="M669 201h2m34 0h2m200 0h4m6 0h2m2 0h2M735 203h2m172 0h2m10 0h2M833 205h2m62 0h2m2 0h2m2 0h2m2 0h2m6 0h2M899 207h4M677 209h2m92 0h2m100 0h2m22 0h2m4 0h2m12 0h2M715 211h2m90 0h2m64 0h2m10 0h2m14 0h2m14 0h2m4 0h2M733 213h2m54 0h2m30 0h2m60 0h2M879 215h2m2 0h4m18 0h2m6 0h2M687 217h2m186 0h2m10 0h2m16 0h2m10 0h2M685 219h2m78 0h2m100 0h2m10 0h2m2 0h2m14 0h2m14 0h2m4 0h2M733 221h2m70 0h2m46 0h2m12 0h2m4 0h2m6 0h2m2 0h2m18 0h2m2 0h2m2 0h2M869 223h2m2 0h2m4 0h2m22 0h2m4 0h4M743 225h2m94 0h2m42 0h2m20 0h2m10 0h4M827 227h2m28 0h2m4 0h2m6 0h2m2 0h2m12 0h2m6 0h2M741 229h2m12 0h2m24 0h2m16 0h2m20 0h4m8 0h2m6 0h2m4 0h6m14 0h2m40 0h2m2 0h2M743 231h2m68 0h2m28 0h2m14 0h2m4 0h4m14 0h2m8 0h2m10 0h2m8 0h2M749 233h2m58 0h2m8 0h2m14 0h2m48 0h2m6 0h2M747 235h2m44 0h2m8 0h2m14 0h4m18 0h2m6 0h2m14 0h4m4 0h2m10 0h2m2 0h2m8 0h2m2 0h2m16 0h2M745 237h2m68 0h2m6 0h6m24 0h2m28 0h4m30 0h2M711 239h2m72 0h4m18 0h2m12 0h4m52 0h2m22 0h2m2 0h4m10 0h4M781 241h2m2 0h2m12 0h2m8 0h2m8 0h4m6 0h2m2 0h2m6 0h2m4 0h6m4 0h2m14 0h2m32 0h4m6 0h2M763 243h2m12 0h2m38 0h2m6 0h2m2 0h4m18 0h2m2 0h4m32 0h4M749 245h2m4 0h2m6 0h2m2 0h2m8 0h2m16 0h2m6 0h2m8 0h4m2 0h2m14 0h2m6 0h4m14 0h2m16 0h2m12 0h2m6 0h2m16 0h2M719 247h2m24 0h6m28 0h2m12 0h2m2 0h2m6 0h4m10 0h2m14 0h2m24 0h2m16 0h2m18 0h2m14 0h2m6 0h2M689 249h2m26 0h2m16 0h2m4 0h2m8 0h2m2 0h2m6 0h2m6 0h2m16 0h2m8 0h2m38 0h4m42 0h2m32 0h2M695 251h2m12 0h4m24 0h6m44 0h2m4 0h2m20 0h2m24 0h2m2 0h2m36 0h2m12 0h4M691 253h2m6 0h2m28 0h2m6 0h2m6 0h2m20 0h2m8 0h2m14 0h2m2 0h2m20 0h2m6 0h2m64 0h2m10 0h2m12 0h4M695 255h4m32 0h2m2 0h2m4 0h2m56 0h2m14 0h2m20 0h2m2 0h2m4 0h2m10 0h2m4 0h2m4 0h2m4 0h4m14 0h2m18 0h4M663 257h2m4 0h6m2 0h2m12 0h2m14 0h2m8 0h2m2 0h2m12 0h2m28 0h2m36 0h2m8 0h2m12 0h2m6 0h2m12 0h4m2 0h2m6 0h2m38 0h2M661 259h2m10 0h2m12 0h2m26 0h6m2 0h2m6 0h2m68 0h2m24 0h6m8 0h2m2 0h2m8 0h2m12 0h4m8 0h2m16 0h6m14 0h4M673 261h2m36 0h2m24 0h2m32 0h2m4 0h2m6 0h2m12 0h2m4 0h2m18 0h2m6 0h2m14 0h2m4 0h2m2 0h2m2 0h2m18 0h2m2 0h2m2 0h2m4 0h2m6 0h4m4 0h2M657 263h2m8 0h2m2 0h2m8 0h2m26 0h2m10 0h2m6 0h2m24 0h2m2 0h2m4 0h2m6 0h4m4 0h2m4 0h2m10 0h2m2 0h2m12 0h2m44 0h2m10 0h2M659 265h2m8 0h2m6 0h2m4 0h2m10 0h2m2 0h2m12 0h2m4 0h2m8 0h2m6 0h2m34 0h2m2 0h2m4 0h2m2 0h2m22 0h2m12 0h2m4 0h2m12 0h2m10 0h2m30 0h2m18 0h2m8 0h2M679 267h2m12 0h4m20 0h2m8 0h2m4 0h2m20 0h2m10 0h4m50 0h2m16 0h4m26 0h2m4 0h2M671 269h2m4 0h2m10 0h2m20 0h2m18 0h4m2 0h2m4 0h2m26 0h4m26 0h2m28 0h4m8 0h2m8 0h2m8 0h2m10 0h2m40 0h2m4 0h2M659 271h2m4 0h2m2 0h2m2 0h2m12 0h4m4 0h2m4 0h2m6 0h2m2 0h2m6 0h2m2 0h2m4 0h2m50 0h2m6 0h6m8 0h2m2 0h2m12 0h2m8 0h2m30 0h2m4 0h4m4 0h2m2 0h2m6 0h2m14 0h2m10 0h2M669 273h2m2 0h2m6 0h2m6 0h4m48 0h2m6 0h4m22 0h2m20 0h2m4 0h4m2 0h2m30 0h2m20 0h2m10 0h2m16 0h2m12 0h2m4 0h4m4 0h2M659 275h2m10 0h4m2 0h2m10 0h4m8 0h2m4 0h2m28 0h2m4 0h2m2 0h2m4 0h4m6 0h2m2 0h2m10 0h2m10 0h2m20 0h2m10 0h2m6 0h2m4 0h2m28 0h2m6 0h2m4 0h2m4 0h2m18 0h2m2 0h2M669 277h2m14 0h2m4 0h2m2 0h2m2 0h4m62 0h2m6 0h2m16 0h2m8 0h2m10 0h2m10 0h2m4 0h2m10 0h2m4 0h2m4 0h2m34 0h4m16 0h2M679 279h2m6 0h2m12 0h2m26 0h2m8 0h2m18 0h2m6 0h2m4 0h4m20 0h2m2 0h2m20 0h2m4 0h2m22 0h2m2 0h2m6 0h2m2 0h2m22 0h2m6 0h2m20 0h2M685 281h2m12 0h2m24 0h2m44 0h2m6 0h2m22 0h4m4 0h2m18 0h2m16 0h2m2 0h2m28 0h2m2 0h2m4 0h4m12 0h2m6 0h2M687 283h2m28 0h4m4 0h2m18 0h2m14 0h2m42 0h2m6 0h2m26 0h4m46 0h2m12 0h4M665 285h2m8 0h4m24 0h2m6 0h2m4 0h2m16 0h2m20 0h2m8 0h4m10 0h2m10 0h2m6 0h2m10 0h2m8 0h6m4 0h2m26 0h2m28 0h2m6 0h6m10 0h2M657 287h4m6 0h2m2 0h2m6 0h2m8 0h4m40 0h2m2 0h2m6 0h2m8 0h2m16 0h2m2 0h2m2 0h2m4 0h4m14 0h2m10 0h2m30 0h2m4 0h2m28 0h4m10 0h2m12 0h2m2 0h2M683 289h2m6 0h2m6 0h2m4 0h2m34 0h2m16 0h2m6 0h2m8 0h2m24 0h2m6 0h2m10 0h2m16 0h4m8 0h2m14 0h2m10 0h2m34 0h2m2 0h2M661 291h4m12 0h4m28 0h2m4 0h4m64 0h4m12 0h2m20 0h2m4 0h2m6 0h2m16 0h2m2 0h4m2 0h2m8 0h2m12 0h6M709 293h2m4 0h2m6 0h2m2 0h2m12 0h2m8 0h2m24 0h2m6 0h2m2 0h2m6 0h2m22 0h2m6 0h2m26 0h2m14 0h2m2 0h4m2 0h4m12 0h2m12 0h2m4 0h2m2 0h2M657 295h2m4 0h2m32 0h2m4 0h2m4 0h2m12 0h2m12 0h2m16 0h2m8 0h2m4 0h2m2 0h2m12 0h2m24 0h2m14 0h2m46 0h4m16 0h2m2 0h2M667 297h4m12 0h2m12 0h2m18 0h2m8 0h2m10 0h2m6 0h2m38 0h2m10 0h2m16 0h2m6 0h2m34 0h2m2 0h2m30 0h2m12 0h2m8 0h2M675 299h4m8 0h4m24 0h2m4 0h2m14 0h2m2 0h2m14 0h2m12 0h2m2 0h2m6 0h2m12 0h2m18 0h4m16 0h2m4 0h2m28 0h4m6 0h2m26 0h8M657 301h2m20 0h2m58 0h4m2 0h2m8 0h2m10 0h2m8 0h2m20 0h2m6 0h2m8 0h4m12 0h2m12 0h2m14 0h2m20 0h2m4 0h2M681 303h4m2 0h2m8 0h2m4 0h2m12 0h4m2 0h2m2 0h2m6 0h2m2 0h4m14 0h2m26 0h2m8 0h2m2 0h2m2 0h4m8 0h2m8 0h2m10 0h2m8 0h2m24 0h2m8 0h2m24 0h2M661 305h6m2 0h2m18 0h2m12 0h6m24 0h2m2 0h2m2 0h2m22 0h2m22 0h2m12 0h2m12 0h4m6 0h2m8 0h2m18 0h2m4 0h6m22 0h2M659 307h2m6 0h2m6 0h2m4 0h2m8 0h2m10 0h2m24 0h4m6 0h2m6 0h4m4 0h4m30 0h2m6 0h2m4 0h6m42 0h2m30 0h2m20 0h4M671 309h2m34 0h4m10 0h2m4 0h2m6 0h2m20 0h2m8 0h4m8 0h2m16 0h2m6 0h2m16 0h2m12 0h4m4 0h2m2 0h2m2 0h2m14 0h2m42 0h2M665 311h4m6 0h2m10 0h2m12 0h4m14 0h2m34 0h2m2 0h2m4 0h2m4 0h2m38 0h2m12 0h2m18 0h2m4 0h2m10 0h2m12 0h2m4 0h4m2 0h4m20 0h2m2 0h2M677 313h2m6 0h6m58 0h2m8 0h2m2 0h2m20 0h2m6 0h2m32 0h2m4 0h2m26 0h2m32 0h2m16 0h2m2 0h2M663 315h2m16 0h2m12 0h2m8 0h6m20 0h4m2 0h2m18 0h4m2 0h2m24 0h2m12 0h2m20 0h2m14 0h2m70 0h4M667 317h2m4 0h2m22 0h2m20 0h2m4 0h2m12 0h2m22 0h2m8 0h2m26 0h2m12 0h2m18 0h2m34 0h2m4 0h2M681 319h2m16 0h2m28 0h2m6 0h2m26 0h2m6 0h2m6 0h2m4 0h4m2 0h2m50 0h2m38 0h2m6 0h2M683 321h2m48 0h4m4 0h4m2 0h4m2 0h2m2 0h2m4 0h2m10 0h2m8 0h2m26 0h2m6 0h2m10 0h2m36 0h2M705 323h2m38 0h2m6 0h6m26 0h2m10 0h2m12 0h2m2 0h2m8 0h2m72 0h2M667 325h4m4 0h6m4 0h2m2 0h2m20 0h2m6 0h2m44 0h2m2 0h2m4 0h2m2 0h2m2 0h2m24 0h2m2 0h2m16 0h2m60 0h2M661 327h4m6 0h2m42 0h2m16 0h2m22 0h2m16 0h2m12 0h2m2 0h2m52 0h2m8 0h2M677 329h2m2 0h2m10 0h2m2 0h2m22 0h2m24 0h2m14 0h2m6 0h2m6 0h2m10 0h2m8 0h2m30 0h2m70 0h2M663 331h6m2 0h2m6 0h2m48 0h2m10 0h4m10 0h2m4 0h2m2 0h2m38 0h2m6 0h2m30 0h2m12 0h2m32 0h2m6 0h2m8 0h2M661 333h2m4 0h2m56 0h2m8 0h2m6 0h2m10 0h2m8 0h2m28 0h2m46 0h2m20 0h2m40 0h4M705 335h2m28 0h2m6 0h4m18 0h4m4 0h2m42 0h2m26 0h2m6 0h2m10 0h2m34 0h2M673 337h2m20 0h4m22 0h2m4 0h2m62 0h2m16 0h2m24 0h2m18 0h2m6 0h2m20 0h2M657 339h4m42 0h4m4 0h2m2 0h2m38 0h2m18 0h2m26 0h2m60 0h2m40 0h2M663 341h2m8 0h2m6 0h2m26 0h2m14 0h2m2 0h4m32 0h2m30 0h2m32 0h2m6 0h2m48 0h2M669 343h2m10 0h6m2 0h2m16 0h2m4 0h2m32 0h2m8 0h4m18 0h2m2 0h2m92 0h2m20 0h2m4 0h2M669 345h2m22 0h2m8 0h4m10 0h2m44 0h4m14 0h2m26 0h2m82 0h2m14 0h2m10 0h2M671 347h2m24 0h2m8 0h2m4 0h2m40 0h2m8 0h2m32 0h2m22 0h2m74 0h2M659 349h2m4 0h2m8 0h2m2 0h2m12 0h4m6 0h2m16 0h2m6 0h2m4 0h2m10 0h2m50 0h2m24 0h2m20 0h2m42 0h2m28 0h2M677 351h2m24 0h2m16 0h2m12 0h2m2 0h2m32 0h2m70 0h2m8 0h2m6 0h2m30 0h2M665 353h2m10 0h4m64 0h2m18 0h2m20 0h2m44 0h2m10 0h2m4 0h2m56 0h2m10 0h2M681 355h2m2 0h2m6 0h2m32 0h2m12 0h2m20 0h2m114 0h2M663 357h2m6 0h2m54 0h2m2 0h2m8 0h2m26 0h2m24 0h2m16 0h2m6 0h2m10 0h4m18 0h2m6 0h2m56 0h2M661 359h2m4 0h2m18 0h2m38 0h4m4 0h2m28 0h2m32 0h4M657 361h2m12 0h2m14 0h2m60 0h2m8 0h2m54 0h2m22 0h2m74 0h2M691 363h2m16 0h2m4 0h2m2 0h2m10 0h2m2 0h2m4 0h2m2 0h2m24 0h2m18 0h2m64 0h2m20 0h2M661 365h2m10 0h2m20 0h2m12 0h2m12 0h2m10 0h2m6 0h2m36 0h2m68 0h2m12 0h2m14 0h2m24 0h2m10 0h2M663 367h2m4 0h2m12 0h2m4 0h2m4 0h2m2 0h2m36 0h4m58 0h2m32 0h2m66 0h4M683 369h2m10 0h6m56 0h2m26 0h2m18 0h2m22 0h4m26 0h2m18 0h2m10 0h2m20 0h2M685 371h2m6 0h2m8 0h2m4 0h2m4 0h2m10 0h2m2 0h2m10 0h2m30 0h2m14 0h2m14 0h2m2 0h2m34 0h2m4 0h2M659 373h2m2 0h2m30 0h2m14 0h2m12 0h2m10 0h2m32 0h2m48 0h2M679 375h2m24 0h2m22 0h2m24 0h2m14 0h2m26 0h2m30 0h2m42 0h2M679 377h2m56 0h2m2 0h2m16 0h2m76 0h2m14 0h2m66 0h2M665 379h2m10 0h2m2 0h2m2 0h2m4 0h2m16 0h2m8 0h2m30 0h4m70 0h2m42 0h2M671 381h2m14 0h2m2 0h2m40 0h2m14 0h2m6 0h2m22 0h2m10 0h2m20 0h4m76 0h2m20 0h2M705 383h2m34 0h2m34 0h4m42 0h2m4 0h2m12 0h4m12 0h2m18 0h2M661 385h2m2 0h2m12 0h2m20 0h2m6 0h2m10 0h2m68 0h2m2 0h2m44 0h2m36 0h2m34 0h2M657 387h2m2 0h2m20 0h2m16 0h4m18 0h2m20 0h2m10 0h2m28 0h2m54 0h2m18 0h2m22 0h2m30 0h2m2 0h2M663 389h2m16 0h2m4 0h2m14 0h2m28 0h2m28 0h2m58 0h2m2 0h2m12 0h4m38 0h2m8 0h2m6 0h2m4 0h2m2 0h2M657 391h2m12 0h2m46 0h2m10 0h2m16 0h2m42 0h2M659 393h2m20 0h2m4 0h2m74 0h2" stroke="#24f024" stroke-width="2" fill="none"/><path d="M803 201h2M739 203h2m46 0h2m6 0h2m34 0h2m28 0h2m50 0h2m2 0h4M723 205h2m136 0h2m58 0h2M859 207h2m32 0h2m10 0h2M711 209h2m18 0h2m56 0h2m96 0h2m20 0h2m10 0h2M801 211h2m94 0h2m6 0h2m2 0h2M715 213h2m174 0h2m8 0h4m6 0h2M791 215h2m84 0h2m10 0h4m22 0h8M825 217h2m42 0h2m24 0h4m14 0h2m8 0h2M703 219h2m168 0h2m16 0h6m12 0h4m6 0h2M869 221h2m22 0h4M779 223h2m64 0h2m24 0h2m20 0h2m2 0h4m4 0h4M681 225h2m94 0h2m68 0h2m4 0h2m2 0h2m8 0h2m2 0h2m12 0h2m8 0h4m8 0h2m12 0h2M841 227h2m12 0h2m20 0h4m2 0h4m4 0h4m16 0h2m2 0h2m2 0h2m2 0h2M727 229h2m106 0h2m28 0h2m14 0h2m14 0h2m18 0h4M781 231h2m10 0h2m26 0h4m24 0h2m4 0h4m28 0h2m2 0h2m6 0h2m22 0h2M735 233h2m80 0h2m36 0h4m18 0h2m8 0h4m10 0h8M811 235h2m12 0h2m2 0h2m16 0h2m12 0h2m6 0h2m22 0h2m10 0h2m4 0h2M721 237h2m64 0h2m6 0h2m4 0h2m16 0h2m8 0h2m2 0h2m4 0h2m6 0h2m2 0h2m8 0h2m2 0h2m8 0h2m4 0h2m16 0h2m22 0h2M761 239h2m10 0h2m6 0h2m20 0h2m6 0h2m2 0h2m16 0h2m2 0h4m4 0h2m20 0h2m2 0h2m24 0h2m4 0h2M803 241h4m30 0h2m26 0h2m12 0h2m2 0h8m4 0h2m24 0h2M761 243h2m12 0h2m4 0h2m4 0h2m4 0h2m18 0h2m22 0h2m4 0h4m6 0h2m10 0h2m4 0h2m10 0h2m4 0h2m28 0h2M759 245h2m28 0h2m14 0h2m10 0h2m6 0h2m12 0h4m34 0h2m36 0h4m4 0h2M733 247h2m8 0h2m20 0h2m8 0h4m36 0h4m2 0h2m2 0h2m24 0h2m14 0h2m24 0h2M731 249h2m36 0h2m6 0h2m22 0h2m48 0h4m10 0h2m4 0h2m2 0h2m10 0h6m18 0h2m4 0h2M659 251h4m72 0h2m6 0h2m4 0h4m32 0h2m8 0h2m4 0h2m26 0h2m8 0h2m18 0h4m6 0h2m2 0h2m30 0h4m14 0h2M667 253h2m4 0h2m6 0h2m2 0h2m8 0h2m14 0h4m16 0h2m2 0h2m14 0h2m4 0h2m2 0h2m28 0h2m6 0h4m8 0h2m28 0h2m18 0h2m6 0h2m36 0h2m2 0h2m2 0h4m4 0h2M663 255h2m14 0h2m22 0h2m18 0h2m2 0h2m10 0h2m2 0h2m4 0h4m4 0h2m10 0h2m24 0h4m8 0h2m8 0h6m10 0h2m28 0h2m8 0h2m12 0h4m10 0h2m20 0h2M657 257h2m2 0h2m2 0h2m22 0h2m8 0h2m12 0h2m26 0h2m28 0h2m6 0h2m26 0h4m8 0h4m38 0h2m4 0h2m6 0h2m20 0h2m6 0h2M665 259h2m62 0h2m2 0h2m2 0h4m10 0h2m2 0h4m48 0h2m34 0h2m4 0h2m8 0h2m6 0h2m16 0h2m18 0h2M657 261h2m2 0h2m12 0h2m6 0h2m4 0h6m22 0h2m28 0h2m10 0h2m14 0h2m14 0h2m10 0h2m12 0h2m16 0h2m20 0h2m16 0h2m12 0h2m10 0h2M679 263h2m4 0h4m2 0h2m2 0h2m4 0h2m28 0h2m2 0h2m4 0h2m20 0h2m60 0h2m4 0h4m6 0h4m4 0h4m24 0h4m12 0h2m8 0h2m4 0h2M673 265h2m34 0h2m16 0h2m2 0h2m8 0h2m4 0h4m18 0h2m22 0h2m10 0h2m12 0h2m30 0h4m6 0h2m2 0h2m20 0h2m6 0h2m2 0h2m14 0h2M671 267h2m40 0h4m14 0h2m2 0h2m10 0h2m2 0h4m2 0h2m2 0h2m12 0h2m6 0h2m16 0h2m10 0h2m8 0h6m2 0h4m2 0h2m6 0h4m2 0h2m10 0h4m10 0h2m10 0h2m4 0h2m14 0h2m4 0h2m2 0h2M657 269h2m4 0h2m14 0h2m14 0h2m12 0h2m14 0h4m18 0h2m2 0h2m6 0h2m6 0h2m22 0h2m18 0h2m12 0h2m12 0h4m26 0h2m8 0h2m24 0h2m2 0h4M663 271h2m20 0h2m18 0h2m4 0h2m4 0h2m26 0h4m6 0h4m12 0h2m12 0h2m10 0h2m20 0h2M685 273h2m18 0h2m2 0h2m4 0h4m2 0h2m6 0h2m4 0h2m16 0h2m10 0h6m16 0h2m12 0h2m30 0h2m42 0h2m44 0h2M693 275h2m4 0h2m2 0h2m24 0h2m4 0h2m44 0h2m4 0h2m8 0h2m2 0h2m2 0h2m12 0h2m24 0h6m6 0h2m2 0h4m6 0h4m22 0h4m20 0h2M659 277h2m4 0h2m14 0h2m30 0h4m14 0h2m14 0h2m38 0h2m26 0h2m22 0h4m20 0h2m2 0h4m42 0h2M657 279h2m2 0h8m16 0h2m16 0h2m4 0h2m2 0h2m12 0h2m4 0h2m26 0h2m6 0h2m8 0h2m4 0h2m22 0h2m2 0h4m8 0h2m18 0h2m4 0h2m8 0h2m16 0h2m30 0h2m2 0h2M663 281h2m6 0h2m10 0h2m6 0h2m18 0h2m14 0h2m2 0h2m6 0h2m2 0h4m4 0h2m2 0h2m28 0h2m10 0h2m2 0h2m16 0h2m8 0h2m8 0h2m18 0h2m4 0h2m2 0h2m2 0h2m38 0h2m8 0h2M691 283h4m4 0h2m10 0h2m16 0h2m4 0h2m4 0h2m38 0h4m6 0h2m6 0h2m18 0h2m12 0h2m22 0h2m38 0h4M657 285h2m32 0h2m2 0h2m8 0h4m4 0h4m2 0h2m8 0h4m16 0h2m14 0h2m6 0h4m6 0h2m2 0h2m6 0h2m2 0h2m28 0h2m8 0h2m4 0h2m6 0h2m2 0h2m10 0h2M695 287h2m4 0h2m10 0h4m6 0h2m10 0h2m4 0h4m16 0h2m6 0h4m18 0h2m18 0h2m2 0h2m4 0h2m8 0h2m4 0h2m14 0h2m16 0h2m38 0h2m10 0h2M659 289h2m6 0h2m6 0h4m6 0h2m28 0h2m18 0h2m26 0h2m10 0h2m8 0h2m6 0h2m4 0h2m12 0h2m4 0h2m6 0h2m10 0h2m6 0h2m2 0h2m2 0h2m4 0h2m8 0h2m6 0h2m6 0h2m6 0h2m6 0h2m2 0h2m4 0h2M669 291h2m26 0h2m6 0h2m4 0h4m12 0h2m4 0h4m40 0h2m2 0h2m22 0h2m8 0h2m32 0h2m4 0h2m18 0h2m8 0h2m6 0h2m2 0h2m8 0h2m8 0h2M667 293h2m18 0h2m4 0h2m6 0h2m26 0h2m2 0h2m4 0h2m2 0h2m2 0h2m6 0h4m4 0h2m8 0h4m16 0h2m12 0h2m16 0h2m10 0h4m8 0h2m46 0h2m12 0h2M659 295h2m6 0h2m22 0h2m8 0h2m18 0h2m4 0h2m4 0h2m18 0h2m32 0h2m10 0h2m12 0h2m34 0h4m12 0h2m2 0h2m16 0h2m4 0h2m16 0h2M657 297h2m44 0h2m10 0h2m2 0h2m4 0h2m50 0h2m4 0h4m14 0h2m6 0h2m16 0h4m8 0h2m6 0h2m14 0h2m40 0h2m2 0h2m8 0h2M659 299h4m10 0h2m20 0h2m6 0h2m12 0h2m8 0h2m2 0h2m6 0h2m12 0h2m10 0h2m18 0h2m60 0h2m8 0h2m4 0h2m12 0h2M667 301h2m2 0h2m16 0h2m26 0h2m32 0h2m10 0h2m20 0h10m28 0h2m6 0h2m4 0h2m10 0h2m6 0h2m8 0h2m4 0h2m4 0h4m18 0h2M659 303h2m10 0h2m40 0h2m46 0h6m30 0h2m18 0h4m10 0h2m6 0h2m10 0h4m2 0h2m10 0h2m22 0h2m2 0h2M671 305h2m22 0h2m20 0h4m6 0h2m10 0h2m12 0h2m60 0h2m64 0h4m2 0h2m4 0h2m14 0h2m2 0h2m2 0h2M661 307h4m12 0h2m8 0h2m18 0h2m2 0h2m12 0h4m6 0h2m6 0h2m16 0h2m18 0h2m16 0h2m36 0h2m16 0h2m4 0h2m2 0h2m14 0h2m30 0h2m6 0h2M663 309h2m4 0h2m18 0h2m50 0h2m2 0h2m8 0h2m24 0h4m24 0h2m30 0h2m4 0h2m2 0h2m10 0h2m16 0h2m4 0h2m10 0h2M671 311h2m18 0h4m12 0h2m16 0h2m34 0h2m70 0h2m4 0h2m14 0h2m2 0h4m4 0h2m26 0h2m2 0h2m4 0h2m16 0h2M673 313h2m4 0h4m22 0h2m4 0h2m4 0h2m6 0h4m18 0h2m28 0h4m30 0h2m30 0h2m10 0h2m20 0h2m10 0h2M673 315h2m26 0h2m18 0h2m2 0h2m12 0h2m4 0h2m52 0h2m14 0h4m2 0h2m4 0h2m8 0h2m14 0h2m6 0h2m12 0h4m14 0h2m2 0h2M681 317h2m2 0h4m16 0h2m8 0h2m6 0h2m24 0h2m6 0h2m2 0h2m8 0h2m18 0h2m54 0h2m4 0h2m2 0h4m14 0h2m6 0h2M677 319h4m10 0h2m18 0h2m20 0h2m10 0h2m20 0h2m6 0h6m22 0h2m10 0h4m2 0h2m10 0h2m18 0h2M665 321h2m8 0h4m8 0h2m22 0h2m4 0h2m52 0h2m30 0h4m12 0h2m4 0h2m10 0h2m54 0h2M673 323h2m2 0h2m20 0h2m30 0h2m2 0h2m22 0h2m12 0h2m8 0h2m8 0h2m6 0h2m14 0h2m10 0h4m2 0h2m4 0h2m10 0h2m6 0h2m2 0h2m40 0h2M661 325h6m28 0h2m8 0h2m8 0h2m6 0h2m10 0h4m2 0h2m24 0h2m8 0h2m2 0h2m4 0h2m36 0h2m52 0h2M657 327h2m6 0h2m6 0h2m14 0h2m18 0h4m6 0h2m2 0h2m10 0h2m22 0h2m8 0h2m6 0h2m24 0h4m6 0h2m26 0h2m2 0h2m14 0h2m6 0h2m10 0h2m6 0h2M661 329h2m6 0h2m2 0h2m10 0h2m8 0h2m4 0h2m42 0h2m10 0h2m6 0h6m2 0h2m6 0h2m14 0h2m10 0h2m44 0h2m16 0h2m8 0h2m24 0h2m10 0h2M673 331h2m14 0h2m40 0h2m12 0h2m4 0h2m24 0h2m2 0h2m36 0h2m66 0h2m10 0h2M671 333h2m8 0h2m6 0h2m26 0h2m18 0h4m22 0h2m10 0h2m8 0h2m14 0h2m2 0h2m20 0h2m24 0h2m8 0h2m14 0h4M669 335h2m4 0h2m10 0h2m64 0h2m6 0h2m16 0h2m10 0h2m46 0h2M663 337h2m12 0h4m38 0h2m14 0h4m6 0h2m2 0h2m6 0h2m8 0h2m2 0h2m30 0h2m26 0h2m12 0h2m4 0h2m12 0h2m6 0h2m8 0h2M663 339h4m4 0h2m4 0h2m8 0h2m4 0h2m2 0h6m4 0h2m8 0h2m2 0h2m12 0h2m4 0h2m14 0h2m34 0h2m34 0h2m38 0h2m20 0h2m4 0h2m12 0h2m8 0h2M669 341h2m40 0h4m12 0h2m14 0h2m6 0h2m4 0h2m2 0h2m28 0h2m34 0h2m18 0h2m24 0h4m10 0h2m26 0h2M657 343h2m4 0h2m22 0h2m2 0h2m16 0h2m12 0h4m6 0h2m14 0h2m60 0h2m2 0h4m34 0h2m2 0h2m32 0h2m8 0h2m8 0h2M663 345h2m12 0h2m2 0h2m6 0h2m28 0h2m10 0h2m6 0h2m16 0h2m54 0h2m52 0h2m2 0h2m16 0h2M665 347h2m86 0h2m14 0h2m20 0h2m16 0h2m22 0h4m40 0h4m24 0h2m10 0h2M657 349h2m2 0h4m6 0h2m18 0h2m34 0h2m4 0h2m10 0h2m6 0h2m16 0h2m22 0h2m14 0h2m18 0h2m6 0h2m18 0h2m8 0h2m10 0h2m14 0h2M659 351h2m44 0h2m18 0h2m20 0h2m2 0h4m2 0h2m20 0h2m24 0h2m42 0h2m16 0h2m40 0h2m2 0h2M661 353h2m4 0h2m26 0h8m10 0h2m2 0h2m2 0h2m16 0h2m8 0h2m142 0h2M661 355h2m8 0h2m32 0h2m8 0h2m6 0h4m18 0h2m2 0h2m46 0h2m6 0h2m62 0h2m44 0h2M665 357h2m20 0h2m6 0h2m26 0h2m12 0h2m20 0h2m98 0h2m24 0h2m30 0h2M657 359h2m4 0h2m4 0h2m6 0h4m4 0h2m6 0h2m10 0h2m10 0h2m14 0h2m42 0h2m38 0h2m42 0h2m30 0h2m24 0h2m2 0h2M659 361h2m2 0h2m4 0h2m12 0h2m10 0h2m2 0h2m6 0h2m6 0h2m8 0h2m10 0h2m2 0h4m20 0h2m10 0h2m16 0h4m6 0h2m12 0h2m32 0h4m54 0h2M695 363h2m6 0h2m16 0h4m48 0h2m80 0h2M659 365h2m10 0h2m34 0h2m12 0h2m6 0h2m20 0h2m34 0h2m12 0h2m4 0h2m22 0h4m48 0h2M701 367h2m10 0h2m74 0h2m28 0h2m38 0h2m4 0h2m2 0h2m10 0h2m28 0h2M659 369h4m28 0h2m8 0h2m16 0h2m40 0h2m18 0h4m56 0h2m80 0h2M673 371h2m6 0h2m16 0h2m4 0h2m6 0h2m10 0h2m36 0h2m30 0h2m32 0h2m20 0h2m6 0h4M657 373h2m22 0h4m14 0h2m18 0h2m6 0h2m28 0h2m48 0h2m84 0h2m18 0h2M683 375h2m4 0h2m18 0h2m2 0h2m6 0h2m12 0h2m6 0h2m4 0h2m38 0h2m18 0h2m8 0h2m4 0h4m6 0h2m26 0h4m10 0h2m12 0h2m6 0h2M661 377h2m20 0h4m6 0h2m2 0h2m4 0h4m16 0h2m2 0h2m4 0h2m28 0h2m20 0h2m72 0h2m12 0h2m24 0h2m2 0h4M663 379h2m6 0h2m30 0h2m8 0h2m12 0h2m26 0h2m32 0h2m30 0h2m32 0h2m10 0h2M673 381h2m24 0h2m18 0h4m18 0h2m34 0h2m28 0h2m2 0h2m32 0h2m20 0h2M677 383h4m20 0h2m22 0h2m2 0h2m16 0h4m34 0h2m80 0h2m54 0h2M667 385h2m14 0h2m2 0h2m6 0h2m38 0h2m12 0h2m14 0h2m96 0h2m10 0h2m14 0h2m12 0h2m4 0h2M675 387h2m14 0h2m28 0h2m94 0h2m34 0h2m24 0h2m28 0h2M683 389h2m20 0h2m102 0h2M665 391h2m18 0h2m6 0h2m2 0h2m10 0h2m26 0h2m12 0h4M663 393h2m2 0h2m24 0h4m46 0h2m8 0h2m20 0h2m24 0h4m8 0h2m10 0h4m30 0h2m18 0h2" stroke="#1ad01a" stroke-width="2" fill="none"/><path d="M1182 201h4M1188 203h2M1166 205h2m22 0h2M1012 207h2m158 0h4m14 0h2M1162 209h2m6 0h2M1178 213h2M1158 215h2m6 0h2M1164 217h2m4 0h2M1150 219h2m4 0h4M1178 223h2m10 0h4M1132 225h2m2 0h2m2 0h2m6 0h2m2 0h6M1130 227h2m4 0h2m20 0h2m14 0h2m16 0h2M1126 229h2m28 0h2m18 0h4m4 0h2m2 0h4M1142 231h4m6 0h2m18 0h4m8 0h2M1112 233h2m4 0h2m12 0h2m2 0h4m18 0h2m4 0h2m6 0h2M1068 235h2m46 0h2m6 0h2m40 0h2M1074 237h2m16 0h2m8 0h4m16 0h2m42 0h4m4 0h2m10 0h2M1056 239h2m10 0h2m22 0h2m14 0h2m4 0h2m10 0h2m2 0h2m38 0h2m2 0h2m10 0h2M1050 241h2m10 0h2m30 0h2m2 0h2m4 0h2m6 0h2m12 0h4m40 0h2m6 0h4m4 0h2M1042 243h2m4 0h2m6 0h4m6 0h2m14 0h2m22 0h4m30 0h2m8 0h2m12 0h2m10 0h2M1026 245h2m40 0h2m22 0h2m2 0h2m26 0h4m28 0h2M1002 247h2m12 0h2m10 0h2m4 0h2m2 0h2m18 0h4m6 0h2m24 0h2m22 0h2m10 0h2m8 0h2m36 0h2m10 0h2M1040 249h2m20 0h4m8 0h2m22 0h2m4 0h2m4 0h2m70 0h2m2 0h2M1004 251h2m4 0h6m2 0h2m54 0h2m14 0h2m2 0h2m36 0h2m18 0h2m38 0h2M942 253h2m16 0h2m18 0h2m26 0h2m2 0h2m16 0h4m30 0h2m8 0h2m26 0h4m8 0h2m12 0h2m16 0h4m4 0h2M928 255h2m24 0h2m18 0h2m2 0h2m10 0h4m14 0h2m4 0h2m16 0h2m6 0h2m26 0h2m4 0h2m2 0h2m40 0h2m18 0h2m12 0h2m8 0h2m22 0h2M954 257h2m12 0h2m8 0h2m4 0h2m14 0h2m2 0h2m36 0h2m16 0h2m8 0h4m6 0h2m18 0h2m30 0h2m14 0h2m6 0h2m6 0h2m6 0h2m16 0h2M928 259h2m22 0h2m8 0h2m2 0h2m12 0h2m4 0h2m8 0h4m8 0h2m24 0h2m2 0h2m16 0h2m32 0h2m10 0h2m4 0h2m66 0h2M930 261h4m6 0h2m2 0h2m44 0h4m44 0h2m34 0h2m20 0h2m8 0h2m6 0h2m26 0h2m16 0h2m12 0h2m2 0h2M942 263h2m18 0h2m2 0h2m6 0h6m12 0h2m22 0h2m4 0h2m16 0h2m6 0h2m4 0h2m8 0h2m2 0h2m4 0h2m58 0h2m38 0h2m14 0h2M928 265h2m40 0h2m22 0h2m14 0h2m22 0h4m32 0h2m16 0h2m6 0h2M948 267h2m14 0h2m16 0h2m14 0h2m10 0h2m10 0h2m22 0h2m2 0h2m20 0h2m16 0h2m6 0h2m14 0h2m2 0h4m14 0h2m10 0h2m2 0h2m8 0h2m2 0h4M944 269h2m6 0h2m14 0h6m4 0h2m32 0h2m20 0h2m8 0h2m6 0h4m6 0h2m4 0h2m2 0h2m28 0h2m2 0h2m12 0h2m16 0h2m8 0h2m18 0h2m18 0h2M930 271h2m8 0h2m20 0h2m10 0h2m10 0h2m12 0h2m4 0h4m6 0h2m6 0h2m2 0h2m2 0h2m4 0h4m10 0h4m18 0h2m6 0h2m4 0h2m14 0h2m14 0h2m8 0h2m2 0h4m8 0h2m10 0h2m6 0h6m12 0h2m6 0h2M932 273h2m18 0h2m32 0h2m36 0h4m8 0h2m16 0h2m48 0h2m8 0h2m10 0h2m4 0h2m2 0h2m6 0h2m14 0h2m26 0h2m2 0h2M928 275h2m6 0h2m4 0h2m10 0h4m46 0h2m28 0h2m2 0h2m20 0h2m32 0h4m2 0h2m2 0h2m12 0h2m4 0h2m6 0h2m2 0h2m10 0h2m28 0h2m10 0h2M938 277h2m16 0h2m10 0h2m6 0h2m2 0h2m66 0h2m4 0h2m4 0h2m26 0h2m6 0h6m2 0h2m18 0h2m18 0h2m4 0h2m10 0h2m12 0h2m14 0h2M934 279h2m38 0h4m14 0h2m4 0h2m16 0h2m14 0h2m12 0h2m20 0h2m40 0h4m10 0h4m52 0h2M960 281h2m8 0h4m30 0h2m14 0h2m38 0h2m10 0h2m22 0h2m20 0h2m16 0h2m14 0h2m16 0h4m8 0h2M928 283h2m28 0h2m2 0h2m6 0h2m12 0h4m2 0h2m18 0h2m52 0h2m20 0h6m4 0h2m22 0h2m4 0h2m18 0h2m2 0h2m10 0h2m4 0h2m4 0h2m6 0h2m2 0h6M932 285h4m22 0h2m24 0h2m2 0h2m6 0h2m2 0h2m4 0h2m2 0h4m6 0h4m20 0h2m40 0h2m34 0h2m22 0h2m6 0h2m14 0h2M938 287h2m8 0h2m8 0h2m6 0h2m10 0h2m44 0h2m8 0h4m8 0h2m4 0h6m12 0h2m4 0h2m6 0h2m6 0h2m10 0h2m22 0h2m2 0h2m14 0h2m2 0h2m26 0h2m2 0h2M934 289h2m116 0h2m10 0h2m2 0h2m8 0h2m2 0h4m6 0h2m10 0h2m4 0h2m18 0h2m32 0h2m26 0h2M936 291h2m4 0h2m6 0h2m10 0h2m12 0h2m6 0h2m2 0h2m18 0h2m56 0h2m40 0h2m20 0h2m22 0h2m10 0h2m4 0h4m16 0h2M942 293h2m14 0h2m2 0h2m6 0h2m12 0h2m4 0h8m10 0h4m4 0h2m22 0h2m28 0h2m8 0h2m52 0h2m6 0h2m8 0h2m28 0h2m2 0h2M934 295h4m12 0h2m26 0h4m8 0h2m8 0h2m6 0h2m8 0h2m22 0h2m30 0h4m2 0h2m36 0h2m14 0h2m32 0h2m6 0h2m6 0h2m2 0h2M928 297h2m12 0h4m2 0h2m12 0h2m10 0h2m10 0h2m24 0h2m4 0h4m4 0h2m18 0h2m34 0h2m4 0h4m6 0h2m2 0h2m26 0h2m4 0h2m18 0h2m22 0h2m10 0h2M932 299h4m12 0h2m4 0h2m8 0h2m4 0h2m10 0h2m16 0h6m10 0h2m14 0h4m34 0h4m36 0h2m14 0h2m4 0h2m2 0h2m4 0h2m44 0h2M928 301h2m2 0h2m16 0h2m2 0h2m40 0h2m34 0h2m6 0h4m4 0h2m16 0h2m2 0h4m6 0h2m2 0h2m14 0h2m28 0h2m4 0h4m6 0h4m14 0h2m2 0h2m14 0h2M928 303h4m12 0h2m22 0h4m10 0h2m10 0h2m6 0h2m16 0h2m10 0h2m14 0h2m16 0h2m8 0h2m22 0h2m16 0h4m2 0h2m12 0h2m16 0h2m2 0h2m4 0h2M950 305h2m2 0h2m6 0h4m4 0h2m20 0h4m22 0h2m8 0h4m20 0h2m4 0h2m10 0h2m34 0h2m2 0h2m6 0h2m4 0h2M928 307h2m70 0h2m34 0h2m2 0h2m6 0h2m10 0h2m14 0h2m4 0h2m48 0h4m50 0h2M934 309h2m12 0h2m4 0h2m6 0h2m24 0h2m48 0h2m32 0h2m2 0h2m10 0h2m32 0h2m2 0h2m4 0h2M936 311h2m4 0h2m18 0h4m12 0h2m6 0h2m28 0h2m14 0h2m18 0h6m22 0h2m26 0h2m2 0h2m6 0h4M942 313h2m8 0h2m18 0h2m38 0h2m8 0h2m6 0h2m20 0h2m22 0h2m30 0h4m10 0h2M940 315h4m4 0h2m16 0h2m10 0h2m2 0h4m10 0h2m42 0h2m6 0h2m4 0h2m8 0h2m16 0h2M930 317h2m32 0h2m24 0h2m6 0h2m16 0h2m4 0h2m14 0h2m10 0h2M942 319h2m22 0h2m18 0h4m20 0h4m58 0h2m68 0h2M928 321h2m8 0h2m24 0h2m36 0h2m2 0h2m6 0h2m68 0h2m2 0h2M932 323h4m18 0h4m8 0h2m46 0h2m6 0h2m24 0h2m18 0h2m6 0h2m2 0h2m20 0h2M1020 325h2m2 0h2m2 0h2m2 0h2m6 0h2m12 0h2m22 0h4M928 327h2m22 0h2m8 0h2m32 0h2m4 0h2m12 0h2m8 0h4m20 0h2m20 0h2m2 0h2M928 329h2m2 0h2m44 0h2m6 0h2m4 0h2m8 0h2m10 0h2m8 0h2m8 0h2m32 0h2m92 0h2M938 331h2m8 0h2m10 0h4m10 0h6m10 0h4m12 0h2m20 0h2m22 0h2m12 0h2M928 333h2m26 0h2m46 0h4m12 0h2m4 0h2m110 0h2m6 0h2M930 335h2m30 0h2m6 0h2m12 0h2m10 0h2m14 0h2M928 337h2m12 0h2m16 0h2m50 0h2m24 0h2m4 0h2m146 0h2M934 339h2m18 0h2m12 0h2m6 0h4m26 0h2m2 0h2m14 0h2M928 341h2m6 0h2m14 0h2m22 0h2m20 0h2m4 0h2m26 0h2M952 343h2m16 0h2m18 0h2m146 0h2M966 345h2m2 0h2m12 0h2m6 0h2m32 0h2m4 0h4M946 347h2m20 0h2m14 0h2m8 0h2m22 0h2m4 0h2m16 0h2M936 349h2m6 0h2m30 0h2m10 0h2m18 0h2m14 0h2m32 0h2m40 0h2M952 351h2m34 0h2m18 0h2m8 0h2m46 0h2m122 0h2M932 353h4m2 0h2m30 0h2m8 0h2m4 0h2m24 0h2M942 355h2m2 0h4m22 0h2m12 0h2m2 0h2m14 0h2m10 0h2m110 0h2M928 357h2m16 0h2m52 0h2m2 0h2M928 359h2m34 0h2m14 0h2m16 0h2m2 0h2m6 0h4M942 361h2m20 0h2m30 0h2m32 0h2M940 363h2m2 0h2m12 0h2m36 0h4M928 365h2m4 0h2m2 0h2m26 0h2m44 0h2M936 367h2m2 0h4m2 0h2m2 0h2m4 0h2m8 0h4m6 0h4m6 0h2m8 0h2m18 0h2M928 369h2m8 0h2m28 0h2m2 0h2m102 0h2M970 371h2m8 0h2M930 373h2m10 0h2m2 0h2m6 0h2m16 0h2m2 0h2m8 0h2M952 375h2m14 0h2m2 0h2m4 0h2m156 0h2M928 377h4m2 0h2m168 0h2M934 379h2m4 0h2m12 0h2M936 381h2m12 0h2M942 383h2m14 0h2m8 0h2m28 0h2m8 0h2M950 385h2m8 0h2m42 0h2M930 387h2m20 0h2m4 0h4m4 0h2m116 0h2M952 389h2M930 391h2m14 0h4m130 0h2M930 393h2m2 0h2m8 0h2m2 0h2m204 0h2" stroke="#ffffff" stroke-width="2" fill="none"/><path d="M1172 201h2m18 0h2M1186 203h2M1160 207h2m20 0h2M1192 209h2M1156 211h4m16 0h2M1156 213h2m6 0h2m4 0h2m2 0h4M1156 215h2m4 0h2m8 0h2m14 0h2M1154 217h2M1152 219h2m36 0h2M1156 221h2m26 0h2M1146 223h2m2 0h2m4 0h2m2 0h2m8 0h4M1158 225h2m14 0h2m4 0h4m4 0h4M1144 227h2M1120 229h4m30 0h2m12 0h2m2 0h2M1120 231h2m2 0h2m6 0h4m4 0h2m4 0h2m12 0h2m16 0h2m2 0h2m6 0h2M1096 233h2m8 0h2m26 0h2m20 0h2m16 0h2m12 0h2M1092 235h2m14 0h2m10 0h2m10 0h2m18 0h2m20 0h2m6 0h2m8 0h2M1080 237h2m8 0h2m4 0h2m2 0h2m12 0h2m12 0h2m6 0h2m8 0h2m2 0h2m18 0h2m12 0h2m4 0h2M1048 239h2m24 0h2m12 0h2m10 0h2m22 0h2m6 0h2m4 0h4m30 0h2m18 0h2M1052 241h2m4 0h2m20 0h2m10 0h2m22 0h2m22 0h2m24 0h4m2 0h4M1024 243h2m28 0h2m12 0h2m24 0h4m40 0h2m6 0h2m14 0h2m4 0h4M1022 245h4m54 0h2m8 0h2m6 0h2m4 0h4m2 0h2m4 0h2m4 0h2m14 0h2m2 0h2m4 0h2m14 0h2m18 0h2m4 0h2M1008 247h2m60 0h2m6 0h2m6 0h4m12 0h2m16 0h2m2 0h2m12 0h2m8 0h2m6 0h2m24 0h2m2 0h2M970 249h2m42 0h2m22 0h2m20 0h2m38 0h2m24 0h2m8 0h2m6 0h2m6 0h2m4 0h2m6 0h2m4 0h2m4 0h2M988 251h2m36 0h2m2 0h2m4 0h2m2 0h2m10 0h2m10 0h2m4 0h4m6 0h4m4 0h2m18 0h4m4 0h2m12 0h2m2 0h2m4 0h2m26 0h2m16 0h2M956 253h2m42 0h2m2 0h2m32 0h2m38 0h2m4 0h2m8 0h2m22 0h2m24 0h2m6 0h2m6 0h2m4 0h2m2 0h2M932 255h2m28 0h2m2 0h2m12 0h2m22 0h2m22 0h2m4 0h2m20 0h2m18 0h2m16 0h4m20 0h2m22 0h2m2 0h4m2 0h2m6 0h2m8 0h6m6 0h4M942 257h2m4 0h2m46 0h2m12 0h2m16 0h4m14 0h2m46 0h2m10 0h2m4 0h2m14 0h2m24 0h2m12 0h2M932 259h2m2 0h4m32 0h2m4 0h2m32 0h2m2 0h2m36 0h2m4 0h2m8 0h2m8 0h2m4 0h2m38 0h2m18 0h2m6 0h2m14 0h2m2 0h2m6 0h2m8 0h2M938 261h2m14 0h2m22 0h2m18 0h2m10 0h2m6 0h2m6 0h2m22 0h4m10 0h2m12 0h2m10 0h2m8 0h2m2 0h2m2 0h4m14 0h2m12 0h2m14 0h2m24 0h2M928 263h4m2 0h2m4 0h2m28 0h2m32 0h4m28 0h2m12 0h2m6 0h4m4 0h2m8 0h2m20 0h2m8 0h4m58 0h2M954 265h2m30 0h2m2 0h2m8 0h2m10 0h2m4 0h4m2 0h2m32 0h2m14 0h4m2 0h2m10 0h2m6 0h2m8 0h4m26 0h2m26 0h2m4 0h2m10 0h2M970 267h2m6 0h2m44 0h2m6 0h2m8 0h2m12 0h2m44 0h2m6 0h2m4 0h2m22 0h2m32 0h4m6 0h2m2 0h2M936 269h6m6 0h2m4 0h2m6 0h2m16 0h2m4 0h2m10 0h4m2 0h2m2 0h2m4 0h2m6 0h2m6 0h2m6 0h2m10 0h2m24 0h2m14 0h2m34 0h2m16 0h2m12 0h2m14 0h2M942 271h2m26 0h2m12 0h2m58 0h2m2 0h2m8 0h2m2 0h2m20 0h2m4 0h2m22 0h4m14 0h2m6 0h2M928 273h2m12 0h6m10 0h2m6 0h4m4 0h2m20 0h2m18 0h2m42 0h2m8 0h2m6 0h2m78 0h2m4 0h2m10 0h2m6 0h2M930 275h2m6 0h2m20 0h2m2 0h2m12 0h2m10 0h2m4 0h4m20 0h2m8 0h2m26 0h2m10 0h2m10 0h2m68 0h2m28 0h2m4 0h2M928 277h2m6 0h2m8 0h4m2 0h2m34 0h2m2 0h2m2 0h2m10 0h6m2 0h2m4 0h2m38 0h2m6 0h2m4 0h2m4 0h2m2 0h2m2 0h2m16 0h2m8 0h2m14 0h2m18 0h2m8 0h2m4 0h2m16 0h2M936 279h2m22 0h2m2 0h2m18 0h4m2 0h2m12 0h4m36 0h2m10 0h2m36 0h2m18 0h2m12 0h2m4 0h2m6 0h2m8 0h2m4 0h2m18 0h2M938 281h2m12 0h2m54 0h2m16 0h2m2 0h2m6 0h2m2 0h2m8 0h2m2 0h2m16 0h2m34 0h2m18 0h2m6 0h2m8 0h2m8 0h2m6 0h4m10 0h2m4 0h2M942 283h2m6 0h2m14 0h2m6 0h2m4 0h2m6 0h2m4 0h2m10 0h2m14 0h2m14 0h2m10 0h2m18 0h2m20 0h2m18 0h2m64 0h2M928 285h2m20 0h2m8 0h2m16 0h2m24 0h2m2 0h2m4 0h4m22 0h2m4 0h2m2 0h2m16 0h2m10 0h2m12 0h2m22 0h2m12 0h2m22 0h2m6 0h2m8 0h2m6 0h2M944 287h2m14 0h2m18 0h2m12 0h2m2 0h2m4 0h2m12 0h2m20 0h2m18 0h2m20 0h2m26 0h2m32 0h2m16 0h2m24 0h2m2 0h2M936 289h2m6 0h2m30 0h2m2 0h2m4 0h2m6 0h2m38 0h4m6 0h2m28 0h2m20 0h2m16 0h2m24 0h2m4 0h2m20 0h2m12 0h2m2 0h2M928 291h4m36 0h2m8 0h2m14 0h2m8 0h2m30 0h2m18 0h2m6 0h2m8 0h2m10 0h2m26 0h4m4 0h2m2 0h2m18 0h4m28 0h2M932 293h6m16 0h2m64 0h2m4 0h2m4 0h2m16 0h2m14 0h2m20 0h2m12 0h2m2 0h2m58 0h4M944 295h2m2 0h2m6 0h2m10 0h2m12 0h2m10 0h2m6 0h2m6 0h2m12 0h2m8 0h2m34 0h2m38 0h2m2 0h4m14 0h2m12 0h2m12 0h2M954 297h4m12 0h2m10 0h2m26 0h2m2 0h2m6 0h4m30 0h2m2 0h2m8 0h2m22 0h2m28 0h2m8 0h2m2 0h2m8 0h2m2 0h2m20 0h2M938 299h2m34 0h4m18 0h2m20 0h2m6 0h2m14 0h2m4 0h4m12 0h2m64 0h2m14 0h2m10 0h4m4 0h2m2 0h2m2 0h2M938 301h2m20 0h4m48 0h2m2 0h2m8 0h2m18 0h2m2 0h2m2 0h2m4 0h2m6 0h2m40 0h2m2 0h4m2 0h2m6 0h2m26 0h2m20 0h2M936 303h4m8 0h2m8 0h2m2 0h4m8 0h2m10 0h2m16 0h2m8 0h2m6 0h2m30 0h2m8 0h2m6 0h2m14 0h2m36 0h4m2 0h2m8 0h2m6 0h2m10 0h2m6 0h2M944 305h2m30 0h2m20 0h2m6 0h2m24 0h2m16 0h2m12 0h2m6 0h2m2 0h2m16 0h2m6 0h4m20 0h4m4 0h2m8 0h2m10 0h2M938 307h4m34 0h2m4 0h2m22 0h6m18 0h2m22 0h2m52 0h2m6 0h2m2 0h2m20 0h2M928 309h2m12 0h2m26 0h2m14 0h2m4 0h2m4 0h2m8 0h4m14 0h2m14 0h2m10 0h2m18 0h2m30 0h4m8 0h2M930 311h2m2 0h2m10 0h2m2 0h4m16 0h2m4 0h2m4 0h2m8 0h4m32 0h2m8 0h2m2 0h6m14 0h4m8 0h2m28 0h2m24 0h2M934 313h4m2 0h2m6 0h2m4 0h2m12 0h2m30 0h2m44 0h2m18 0h2m46 0h2m2 0h2m58 0h2M938 315h2m36 0h2m20 0h4m22 0h2m16 0h4m4 0h2m16 0h2m2 0h2m2 0h4m4 0h2m8 0h2m16 0h2m24 0h2M954 317h2m4 0h2m6 0h2m30 0h2m34 0h2m10 0h2m8 0h2m18 0h2m2 0h2m12 0h2m8 0h2M932 319h2m10 0h2m16 0h2m4 0h2m12 0h4m30 0h2m22 0h2m18 0h2m2 0h2m26 0h4M954 321h2m10 0h2m4 0h2m8 0h2m20 0h2m4 0h2m34 0h2m2 0h2m2 0h2m60 0h2M938 323h2m18 0h2m2 0h2m42 0h2m46 0h2m8 0h2m12 0h2M930 325h2m4 0h2m14 0h2m2 0h2m2 0h2m22 0h2m2 0h2m40 0h2m2 0h2m10 0h2m14 0h4m18 0h2m14 0h2M948 327h2m20 0h2m2 0h2m10 0h2m48 0h4m26 0h2m40 0h2M930 329h2m8 0h2m4 0h2m6 0h2m10 0h2m42 0h2m8 0h2m24 0h2m2 0h6m6 0h4M958 331h2m4 0h2m2 0h2m10 0h2m2 0h4m34 0h2m8 0h2m4 0h2M960 333h2m8 0h2m4 0h2m2 0h4m6 0h2m4 0h6m12 0h2m12 0h2m10 0h2m44 0h2M956 335h2m14 0h2m34 0h2m12 0h2m2 0h2m24 0h4M938 337h2m6 0h6m6 0h2m8 0h2m2 0h2m20 0h2m2 0h2m4 0h2m2 0h2m10 0h2m4 0h2M936 339h2m10 0h2m10 0h2m4 0h2m24 0h2m24 0h2m8 0h2m6 0h2m2 0h4m6 0h4M946 341h2m6 0h2m6 0h4m4 0h2m38 0h2m2 0h2m2 0h2m24 0h2M940 343h2m6 0h2m16 0h2m4 0h2m4 0h2m4 0h2m6 0h2m14 0h2m2 0h2m14 0h2m8 0h2m126 0h2M928 345h2m2 0h2m40 0h6m14 0h2m8 0h2m4 0h4m2 0h2m10 0h2m6 0h2m126 0h2m6 0h2M928 347h2m46 0h2m34 0h2m118 0h2m18 0h2M930 349h2m36 0h4m8 0h2m22 0h2m22 0h2M932 351h4m22 0h2m22 0h2m8 0h2m10 0h2m10 0h2m90 0h2M940 353h2m4 0h2m12 0h2m20 0h4m24 0h2M956 355h2m36 0h2m2 0h6m10 0h2M938 357h2m8 0h6m2 0h2m10 0h2m16 0h2m6 0h2m56 0h2m44 0h2M932 359h2m12 0h2m12 0h2m28 0h2m4 0h2M934 361h2m14 0h4m14 0h6m20 0h2m28 0h2m148 0h2M952 363h2m38 0h2m12 0h2M932 365h2m14 0h2m2 0h2m14 0h2m2 0h2m26 0h2m190 0h2M934 367h2m28 0h2m36 0h2M936 369h2m18 0h2m20 0h4m6 0h2m4 0h4M954 371h2m22 0h2m4 0h2m32 0h2m38 0h2m102 0h2M932 373h4m4 0h2m2 0h2m10 0h2m22 0h6m4 0h2m20 0h2m98 0h2m52 0h2M938 375h2m2 0h2m90 0h2m34 0h2M938 377h2m4 0h2m14 0h2m2 0h2m2 0h2m12 0h2M928 379h2m42 0h2m8 0h2M934 381h2m4 0h2M928 383h2m10 0h2m6 0h2m12 0h2M934 385h2m8 0h2m6 0h8m116 0h2M934 387h4m2 0h2m12 0h2M938 389h2m6 0h2m10 0h2M938 391h2m4 0h2m6 0h2m84 0h2M936 393h2m2 0h2m174 0h2" stroke="#f2f2f2" stroke-width="2" fill="none"/><path d="M1174 203h2m6 0h4M1172 205h4M1164 209h2m12 0h2M1174 211h2m16 0h2M1154 213h2m2 0h2m2 0h2M1168 215h4M1174 217h6M1154 219h2m28 0h4m4 0h2M1148 221h2m8 0h2m4 0h2m2 0h2M1148 223h2m2 0h2m20 0h4M1144 225h2m26 0h2m4 0h2M1122 227h2m4 0h2m4 0h2m10 0h4m18 0h2m8 0h4m4 0h2M1128 229h2m4 0h2m14 0h4m16 0h2m8 0h2m4 0h2M1128 231h4m30 0h4M1108 233h4m4 0h2m24 0h4m8 0h2m24 0h4m8 0h2M1104 235h4m2 0h2m2 0h2m10 0h4m30 0h4m16 0h2m4 0h2M1118 237h2m6 0h2m20 0h2m38 0h2M1046 239h2m22 0h2m12 0h4m18 0h2m2 0h2m48 0h2m4 0h2M1044 241h2m2 0h2m22 0h6m10 0h4m8 0h2m4 0h2m2 0h2m8 0h2m20 0h2m46 0h2M1074 243h2m8 0h2m40 0h2m4 0h2m2 0h2m16 0h2m2 0h2m12 0h2m8 0h2m4 0h4M1028 245h2m14 0h6m4 0h2m14 0h2m6 0h2m6 0h2m24 0h2m6 0h2m12 0h2m8 0h2m8 0h2m16 0h2M1036 247h2m2 0h4m4 0h2m2 0h4m26 0h2m8 0h2m18 0h2m2 0h2m8 0h2m6 0h2m8 0h2m16 0h2m2 0h2m4 0h2m2 0h2m2 0h2M1012 249h2m12 0h2m2 0h2m16 0h6m2 0h2m12 0h2m12 0h4m2 0h2m22 0h2m18 0h2m24 0h2M966 251h2m66 0h2m8 0h4m12 0h2m6 0h2m50 0h2m2 0h6m12 0h2m10 0h2m4 0h2m12 0h2m4 0h2M954 253h2m6 0h2m6 0h2m2 0h2m42 0h2m2 0h2m10 0h2m4 0h2m6 0h2m42 0h2m22 0h2m4 0h2m6 0h4m2 0h2m36 0h2m12 0h2M938 255h2m36 0h2m8 0h2m8 0h2m38 0h4m6 0h2m6 0h2m2 0h2m4 0h4m34 0h2m6 0h2m2 0h2m6 0h2m12 0h2m6 0h2m4 0h2m6 0h2m26 0h2m2 0h2M934 257h2m4 0h2m8 0h2m18 0h4m14 0h2m44 0h4m16 0h4m16 0h2m10 0h2m8 0h2m4 0h2m26 0h2m6 0h2m2 0h2m2 0h2m4 0h2m6 0h2m16 0h2M930 259h2m10 0h2m2 0h2m2 0h2m18 0h2m4 0h2m4 0h2m22 0h2m12 0h4m8 0h2m24 0h2m54 0h2m20 0h2m6 0h2m16 0h2m2 0h2m10 0h4M928 261h2m4 0h2m6 0h2m16 0h2m8 0h2m16 0h2m10 0h2m18 0h2m10 0h4m20 0h2m2 0h4m4 0h2m14 0h2m6 0h2m18 0h2m8 0h4m2 0h2m6 0h2m16 0h2m2 0h2m30 0h4M938 263h2m6 0h8m4 0h2m30 0h2m10 0h2m6 0h2m6 0h2m10 0h2m30 0h2m28 0h2m6 0h2m46 0h4m14 0h2m18 0h2M940 265h2m32 0h2m6 0h2m8 0h2m36 0h2m16 0h2m10 0h6m20 0h2m6 0h2m6 0h2m30 0h2m2 0h2m14 0h2m6 0h4m16 0h2m4 0h2M950 267h2m6 0h4m12 0h2m12 0h2m4 0h2m34 0h2m8 0h2m10 0h2m24 0h2m2 0h2m4 0h2m14 0h2m24 0h2m2 0h2m36 0h2m8 0h2m8 0h2M930 269h2m26 0h2m64 0h2m32 0h2m20 0h4m4 0h2m4 0h2m12 0h2m6 0h2m6 0h4m4 0h6m18 0h2m8 0h2m6 0h2m6 0h2m6 0h2M934 271h2m10 0h2m16 0h2m52 0h2m2 0h2m22 0h2m2 0h2m14 0h2m8 0h2m16 0h2m4 0h4m58 0h2m14 0h2M930 273h2m28 0h2m38 0h2m2 0h2m4 0h6m2 0h2m10 0h4m18 0h2m10 0h2m6 0h2m2 0h2m6 0h4m10 0h2m8 0h2m6 0h6m28 0h2m30 0h2m2 0h2m2 0h2M944 275h2m2 0h2m2 0h2m4 0h2m8 0h2m40 0h4m18 0h2m2 0h2m12 0h2m28 0h2m2 0h2m6 0h2m4 0h2m66 0h2M932 277h2m24 0h2m42 0h4m26 0h2m30 0h2m6 0h2m10 0h2m56 0h2m4 0h2m8 0h2m6 0h4m4 0h2M930 279h2m48 0h2m20 0h2m6 0h2m2 0h2m20 0h2m22 0h4m24 0h4m38 0h4m2 0h2m16 0h2m14 0h2m10 0h2m8 0h2M944 281h4m26 0h2m10 0h2m10 0h2m2 0h2m10 0h2m8 0h2m2 0h2m58 0h2m22 0h2m6 0h4m10 0h2m10 0h2m12 0h2m2 0h2m22 0h2m2 0h2M968 283h2m6 0h2m4 0h2m12 0h2m2 0h2m26 0h2m6 0h2m2 0h4m8 0h4m4 0h2m6 0h2m2 0h2m20 0h2m4 0h2m8 0h2m2 0h4m24 0h2m4 0h2m10 0h2m10 0h2M938 285h2m8 0h2m6 0h2m22 0h4m14 0h2m18 0h2m6 0h2m2 0h2m22 0h4m2 0h2m14 0h2m14 0h2m22 0h2m12 0h2m12 0h2m4 0h2m8 0h2m22 0h2M932 287h2m8 0h2m8 0h6m10 0h6m12 0h2m28 0h2m30 0h2m46 0h2m8 0h2m18 0h2m14 0h2m26 0h4m2 0h2m4 0h2M928 289h2m42 0h2m10 0h2m4 0h4m2 0h2m6 0h2m2 0h2m4 0h2m2 0h4m8 0h2m6 0h2m54 0h2m4 0h2m18 0h2m16 0h2m36 0h2m2 0h2m2 0h2M946 291h2m10 0h2m6 0h2m18 0h2m8 0h2m4 0h2m20 0h2m4 0h2m6 0h2m14 0h2m6 0h2m12 0h2m4 0h2m12 0h2m12 0h2m22 0h2m20 0h4m4 0h2m10 0h2m2 0h2M938 293h2m32 0h2m6 0h2m4 0h4m24 0h2m6 0h2m30 0h4m2 0h2m6 0h2m2 0h2m12 0h2m32 0h2m18 0h2m6 0h2M954 295h2m6 0h2m42 0h2m6 0h2m6 0h2m6 0h4m30 0h2m36 0h2m26 0h2m20 0h2m4 0h2m18 0h4m10 0h2M932 297h2m2 0h2m30 0h2m24 0h2m2 0h2m44 0h2m86 0h2m30 0h2m24 0h2M928 299h2m20 0h2m10 0h2m50 0h2m12 0h2m14 0h2m6 0h6m56 0h2m12 0h2m14 0h2m2 0h2m2 0h2m10 0h2m10 0h2M934 301h2m10 0h2m22 0h2m10 0h2m6 0h2m22 0h2m2 0h2m24 0h2m58 0h2m2 0h2m30 0h4m10 0h2m2 0h2m20 0h2m8 0h2M960 303h2m26 0h2m26 0h2m6 0h4m14 0h2m6 0h2m4 0h2m16 0h2m28 0h2m2 0h2m2 0h2m44 0h2M934 305h2m12 0h2m10 0h2m48 0h2m4 0h2m16 0h2m12 0h2m18 0h2m4 0h2m6 0h2m4 0h2m10 0h2m12 0h4m2 0h2m20 0h2m6 0h2m10 0h2M936 307h2m6 0h2m16 0h2m20 0h2m2 0h2m14 0h2m38 0h2m4 0h2m16 0h2m18 0h2m48 0h2m10 0h2M940 309h2m4 0h2m8 0h2m24 0h2m6 0h2m4 0h2m8 0h2m32 0h2m14 0h2m28 0h2m2 0h2m8 0h2m14 0h2m2 0h2M940 311h2m12 0h2m2 0h2m36 0h2m6 0h2m2 0h2m20 0h2m2 0h2m24 0h2m22 0h2m6 0h2m22 0h2m8 0h2M938 313h2m4 0h2m4 0h2m52 0h2m2 0h2m4 0h2m24 0h2m6 0h4m4 0h2m10 0h2m2 0h2m8 0h4m14 0h2M958 315h8m26 0h2m16 0h4m8 0h2m22 0h2m18 0h2m34 0h2m6 0h2m2 0h2m28 0h2M934 317h4m4 0h2m30 0h2m10 0h2m14 0h4m6 0h2m26 0h2m26 0h2m2 0h2m12 0h4m62 0h2M948 319h2m8 0h2m16 0h4m16 0h2m24 0h2m8 0h4m10 0h4m20 0h2m24 0h2M932 321h2m22 0h2m12 0h2m28 0h2m14 0h2m8 0h2m14 0h2m4 0h2m28 0h2m12 0h2M936 323h2m6 0h2m2 0h4m26 0h2m10 0h4m4 0h2m4 0h2m12 0h2m14 0h2M932 325h4m22 0h2m32 0h2m10 0h2m2 0h8m2 0h2m2 0h2m12 0h4m2 0h2m4 0h2m8 0h4m12 0h2M982 327h4m2 0h2m2 0h2m48 0h2m12 0h4m14 0h2M942 329h2m12 0h4m8 0h2m4 0h2m18 0h2m16 0h2m4 0h2m2 0h2m14 0h2m26 0h2m28 0h2M952 331h2m2 0h2m8 0h2m4 0h2m26 0h2m2 0h2m2 0h2m2 0h2m26 0h2m2 0h2m2 0h2m4 0h2m2 0h2m4 0h2m74 0h2M938 333h2m32 0h2m4 0h2m4 0h4m46 0h2M928 335h2m14 0h2m6 0h2m4 0h2m8 0h2m12 0h2m2 0h2m2 0h6m6 0h2m54 0h2M944 337h2m8 0h2m20 0h2m8 0h2m22 0h2m12 0h2m4 0h2m16 0h4M974 339h2m10 0h4m22 0h2m120 0h2M988 341h2m10 0h2m38 0h4m124 0h2M944 343h2m8 0h4m24 0h2m4 0h2m6 0h2m4 0h2m12 0h4m4 0h2M942 345h2m2 0h2m8 0h2m4 0h4m22 0h2m18 0h2m4 0h2m122 0h2M932 347h2m20 0h2m6 0h2m6 0h2m6 0h2m2 0h2m14 0h2m8 0h2M938 349h2m16 0h2m36 0h4m20 0h2M938 351h2m10 0h2m4 0h2m22 0h2m160 0h2m36 0h2m4 0h2M936 353h2m4 0h2m4 0h2m16 0h2m8 0h2m16 0h2m2 0h2m2 0h2m12 0h4M930 355h2m8 0h2m8 0h2m14 0h6m6 0h4M936 357h2m24 0h2m14 0h2m10 0h2m4 0h2m12 0h4M940 359h2m12 0h2m28 0h2m8 0h2m4 0h2m2 0h2m80 0h2m96 0h2M932 361h2m14 0h2m16 0h2m8 0h2m2 0h2m6 0h2m10 0h4M936 363h2m16 0h2m32 0h2M950 365h2m8 0h2m2 0h2m24 0h2m2 0h4m4 0h2M944 367h2m6 0h2m4 0h4m28 0h2M934 369h2m46 0h2m40 0h2m146 0h2M934 371h4m8 0h8m8 0h6m22 0h2M948 373h2m12 0h2m2 0h2M928 375h2m4 0h2m28 0h2m10 0h2m160 0h2M966 377h2m2 0h4m2 0h2m124 0h2M936 379h2m32 0h2m6 0h2M928 381h2m12 0h2m4 0h2m26 0h2m86 0h2M932 383h2m22 0h2m6 0h2m106 0h2M928 385h6m2 0h2M928 387h2m8 0h2M940 389h2m2 0h2m8 0h2m4 0h2M934 391h2m22 0h2m154 0h2M928 393h2m16 0h2" stroke="#dadada" stroke-width="2" fill="none"/></g><path d="M657 5h537v2.2H657zM657 5h2.4v388.5H657zM1191.6 5h2.4v388.5h-2.4zM657 392h537v1.5H657z" fill="#000"/><rect x="925" y="5" width="3.4" height="388.5" fill="#f4f4f4"/><rect x="657" y="197.3" width="537" height="2.9" fill="#f4f4f4"/><g font-family='"Liberation Sans", sans-serif' font-size="38" fill="#e8e8e8" text-anchor="end"><text transform="translate(914.6 192.8) scale(0.90 1)">O</text><text transform="translate(1176.5 193.2) scale(1.06 1)">Mn</text><text transform="translate(916.0 387.6) scale(1.00 1)">Ni</text><text transform="translate(1179.3 388.2) scale(0.96 1)">Au</text></g><rect x="69" y="473.3" width="533.2" height="383.8" fill="none" stroke="#000" stroke-width="2.7"/><line x1="69" y1="508.2" x2="76.8" y2="508.2" stroke="#000" stroke-width="1.7"/><line x1="69" y1="682.7" x2="76.8" y2="682.7" stroke="#000" stroke-width="1.7"/><g fill="#ff0000" stroke="#300" stroke-width="1"><rect x="108.5" y="850.3" width="39" height="6.5"/><rect x="305.5" y="508.2" width="40.3" height="348.6"/><rect x="503.3" y="578" width="39.7" height="278.8"/></g><g font-family='"Liberation Serif", serif' font-weight="bold" font-size="21" text-anchor="end"><text x="59.6" y="514.6">100</text><text x="59.6" y="689.2">50</text><text x="59.6" y="863.6">0</text></g><g font-family='"Liberation Serif", serif' font-weight="bold" font-size="20.5" text-anchor="middle"><text x="127.6" y="836.8">0%</text><text x="325.3" y="500.1">100%</text><text x="523.1" y="570.0">80%</text></g><g font-family='"Liberation Serif", serif' font-size="23.3" text-anchor="middle"><text x="127.3" y="901.3">Ni foam</text><text x="308.8" y="901.3">NPG/Ni foam</text><text x="504.5" y="901.4">MnO<tspan font-size="15.5" dy="4">2</tspan><tspan dy="-4">@NPG/Ni foam</tspan></text></g><text transform="translate(26 695.9) rotate(-90)" font-family='"Liberation Serif", serif' font-size="29.5" text-anchor="middle">Specific surface area ratio / %</text><rect x="659.7" y="472.6" width="532.5" height="383.9" fill="none" stroke="#000" stroke-width="2.7"/><line x1="721.9" y1="856" x2="721.9" y2="864.5" stroke="#000" stroke-width="2.7"/><line x1="847.5" y1="856" x2="847.5" y2="864.5" stroke="#000" stroke-width="2.7"/><line x1="973.0" y1="856" x2="973.0" y2="864.5" stroke="#000" stroke-width="2.7"/><line x1="1098.7" y1="856" x2="1098.7" y2="864.5" stroke="#000" stroke-width="2.7"/><g font-family='"Liberation Serif", serif' font-weight="bold" font-size="16.5" text-anchor="middle"><text x="721.9" y="883">630</text><text x="847.5" y="883">640</text><text x="973.0" y="883">650</text><text x="1098.7" y="883">660</text></g><text x="933.8" y="907" font-family='"Liberation Serif", serif' font-size="30.5" text-anchor="middle">Binding Energy (eV)</text><text transform="translate(645.6 653.5) rotate(-90)" font-family='"Liberation Serif", serif' font-size="30" text-anchor="middle">Intensity</text><path d="M696.7 759.7L698.7 759.8L700.7 761.4L702.7 758.3L704.7 758.0L706.7 758.0L708.7 755.2L710.7 756.6L712.7 756.7L714.7 757.1L716.7 752.7L718.4 754.9L720.0 754.8L721.6 759.9L723.3 760.3L725.3 757.0L727.3 762.5L729.3 762.8L731.3 761.3L733.3 761.4L735.3 758.2L737.3 756.8L739.3 759.0L741.3 755.7L743.3 755.8L745.2 756.8L747.1 756.3L749.0 759.4L751.0 760.0L752.9 763.0L754.8 761.9L756.7 763.3L758.4 761.0L760.0 760.5L761.6 757.9L763.3 755.5L765.3 758.8L767.3 758.1L769.3 756.6L771.3 755.1L773.3 752.3L775.0 751.0L776.6 750.5L778.3 748.4L780.0 751.5L781.6 748.6L783.3 750.2L785.0 746.6L786.6 748.7L788.3 746.9L790.0 741.1L791.6 741.2L793.3 744.0L795.3 741.0L797.3 743.4L799.3 739.6L801.3 737.3L803.3 739.9L804.7 739.6L806.2 735.5L807.6 733.3L809.0 733.5L810.4 735.8L811.9 733.4L813.3 728.7L814.6 727.9L816.0 725.6L817.3 723.8L818.7 726.5L820.0 721.5L821.7 722.7L823.3 721.1L825.0 718.7L826.7 720.7L828.3 716.4L830.0 718.3L832.5 715.0L835.0 716.3L835.7 713.4L836.4 712.1L837.1 714.3L837.8 711.7L838.5 707.3L839.2 708.9L840.6 703.4L841.9 702.8L843.3 703.7L844.3 700.6L845.4 695.7L846.5 698.8L847.5 692.6L847.8 690.9L848.1 691.8L848.4 687.3L848.8 685.1L849.1 681.9L849.4 680.0L849.7 680.8L850.0 676.9L850.4 677.0L850.7 673.8L851.1 672.3L851.4 673.3L851.8 668.7L852.1 667.3L852.5 667.1L852.7 661.4L852.9 659.3L853.1 661.7L853.3 659.4L853.5 654.3L853.7 652.1L853.9 653.3L854.0 652.6L854.2 646.6L854.4 648.9L854.6 646.7L854.8 643.3L855.0 640.4L855.2 636.8L855.5 634.6L855.7 638.0L856.0 632.2L856.2 633.0L856.5 628.7L856.7 630.1L857.0 627.0L857.2 623.5L857.5 621.1L857.7 622.4L858.0 616.9L858.2 616.0L858.5 616.1L858.7 615.9L859.0 612.8L859.2 609.2L859.5 610.9L859.8 605.1L860.1 602.2L860.4 601.7L860.8 600.8L861.1 596.8L861.4 595.6L861.7 594.8L862.0 594.1L862.3 589.8L862.6 589.2L863.0 590.3L863.3 588.9L863.6 585.2L863.9 583.6L864.3 581.0L864.6 576.6L865.0 574.1L865.3 572.1L865.7 575.1L866.0 572.0L866.4 571.6L866.7 564.4L867.1 565.9L867.3 563.2L867.4 562.7L867.6 558.6L867.8 560.6L868.0 553.6L868.1 554.4L868.3 553.6L868.5 552.7L868.7 550.0L868.8 548.0L869.0 546.7L869.2 545.5L869.4 540.5L869.5 540.6L869.7 539.9L869.9 538.0L870.1 533.6L870.2 533.9L870.4 532.4L871.0 529.0L871.5 527.5L872.0 524.3L872.6 523.6L873.2 521.9L873.7 517.1L874.2 518.5L874.8 518.7L875.3 516.2L875.8 513.6L876.4 509.9L876.9 510.0L877.5 511.0L878.0 512.0L878.5 516.0L879.1 513.6L879.7 519.1L880.2 516.9L880.7 521.8L881.3 522.9L881.8 523.2L882.4 527.6L882.9 528.2L883.4 530.6L884.0 534.0L884.5 532.1L885.1 532.4L885.6 535.8L886.1 539.8L886.7 539.0L887.2 540.7L887.8 546.8L888.3 547.3L888.8 548.0L889.4 552.4L889.9 551.1L890.4 554.9L891.0 554.2L891.5 557.4L892.1 561.4L892.6 563.9L893.2 565.6L893.8 564.8L894.3 567.8L894.5 568.1L894.7 569.0L894.9 572.8L895.2 576.6L895.4 578.5L895.6 579.6L895.8 582.7L896.0 580.8L896.2 582.1L896.5 585.5L896.7 586.3L896.9 587.8L897.1 590.8L897.3 593.8L897.5 594.9L897.7 595.8L898.0 600.6L898.2 603.2L898.4 602.1L898.6 601.8L899.2 603.4L899.9 610.0L900.5 607.2L901.1 612.8L901.7 613.9L902.4 614.3L903.0 618.8L903.7 616.2L904.4 618.5L905.2 622.0L905.9 621.3L906.6 627.5L907.3 625.9L908.1 627.0L908.8 628.2L909.5 633.1L910.1 633.8L910.8 636.6L911.5 638.5L912.1 641.1L912.8 643.7L913.4 643.9L914.0 642.9L914.7 646.2L915.4 646.3L916.0 647.1L917.3 650.9L918.6 653.6L919.9 651.9L921.2 653.7L922.5 655.4L924.0 658.5L925.4 658.6L926.9 660.2L928.3 662.1L929.8 661.1L931.2 664.4L932.7 666.5L934.1 663.4L935.5 669.6L937.0 669.8L938.5 668.0L939.9 671.2L942.1 672.8L944.2 674.9L946.4 672.5L948.6 674.1L950.4 676.4L952.2 676.5L954.0 677.8L955.8 675.7L957.6 677.3L959.4 675.3L961.2 678.4L963.0 679.1L964.8 678.3L966.7 678.9L968.5 676.2L970.3 680.2L972.1 680.3L973.9 680.0L975.7 677.2L977.5 678.2L979.3 675.2L981.1 678.2L982.9 676.9L984.7 673.1L986.4 670.6L988.2 671.6L990.0 671.3L990.8 670.7L991.6 667.3L992.4 662.9L993.2 665.4L994.1 659.4L994.9 661.7L995.7 656.4L996.5 655.5L997.0 656.2L997.6 650.9L998.1 649.1L998.7 649.4L999.2 648.8L999.8 647.7L1000.3 645.1L1000.8 644.8L1001.4 640.5L1001.9 641.2L1002.5 634.6L1003.0 633.6L1003.5 633.5L1004.1 630.4L1004.6 631.0L1005.2 628.7L1005.7 626.3L1006.3 626.3L1006.8 622.9L1007.4 619.7L1007.9 618.2L1008.7 619.2L1009.5 617.9L1010.4 612.3L1011.2 614.3L1012.0 613.3L1012.5 609.0L1012.9 607.5L1013.4 603.6L1013.8 603.7L1014.3 601.7L1014.7 600.4L1015.2 595.4L1015.6 598.8L1016.1 594.5L1017.2 591.9L1018.2 592.3L1019.3 589.1L1020.9 587.6L1022.6 587.6L1024.2 583.1L1025.2 587.5L1026.2 588.6L1027.1 593.4L1028.1 595.0L1029.1 593.1L1029.9 596.1L1030.7 596.1L1031.5 599.7L1032.4 603.8L1033.2 606.1L1034.0 605.7L1034.8 606.7L1035.6 607.9L1036.5 612.2L1037.3 615.8L1038.1 613.3L1038.9 618.9L1039.5 616.6L1040.2 619.5L1040.8 621.6L1041.5 626.1L1042.1 626.0L1042.9 627.8L1043.7 631.0L1044.6 629.7L1045.4 634.9L1046.2 633.1L1046.7 637.2L1047.2 637.7L1047.7 639.4L1048.2 643.2L1048.7 644.6L1050.7 645.1L1052.7 646.1L1053.5 648.4L1054.3 647.9L1055.2 649.8L1056.0 653.8L1056.8 655.5L1058.4 653.8L1060.1 654.5L1061.7 652.1L1063.3 654.6L1065.0 652.1L1066.6 656.0L1067.0 658.3L1067.4 660.8L1067.8 659.4L1068.2 661.3L1068.6 666.6L1069.0 664.5L1069.8 667.3L1070.6 665.0L1071.5 659.2L1072.3 658.2L1073.1 659.3L1074.7 655.6L1076.4 653.5L1078.0 656.6L1078.3 656.1L1078.7 660.1L1079.0 658.2L1079.4 661.6L1079.7 665.1L1080.1 663.2L1080.4 666.1L1081.9 667.5L1083.4 667.5L1084.8 666.5L1086.3 660.4L1087.8 661.2L1089.7 662.6L1091.7 661.2L1093.6 662.2L1095.6 659.5L1097.5 658.8L1099.1 657.4L1100.8 655.4L1102.4 656.7L1102.7 658.4L1103.0 660.7L1103.4 660.2L1103.7 662.4L1104.0 664.4L1105.7 666.8L1107.3 666.4L1108.9 664.8L1110.6 658.9L1112.8 659.3L1114.9 664.9L1117.1 662.7L1118.0 662.8L1119.0 658.7L1119.9 657.8L1120.8 656.5L1121.7 654.4L1122.7 653.7L1123.6 648.8L1124.3 654.5L1125.0 657.1L1125.7 655.3L1126.4 658.7L1127.1 662.1L1127.8 662.1L1128.5 662.8L1129.2 660.8L1129.8 661.0L1130.5 656.4L1131.1 659.5L1131.8 657.2L1134.2 657.5L1136.6 657.2" fill="none" stroke="#000" stroke-width="3.3" stroke-linejoin="round"/><path d="M819.2 727.5C821.3 727.6 826.9 728.1 831.7 728.0C836.6 727.9 843.6 727.6 848.3 726.7C853.0 725.8 855.8 724.7 860.0 722.5C864.2 720.3 868.3 716.6 873.3 713.3C878.3 710.0 884.5 705.5 890.0 702.5C895.5 699.5 900.6 696.8 906.0 695.0C911.4 693.2 916.9 692.3 922.6 691.5C928.3 690.7 933.8 690.4 940.0 690.0C946.2 689.6 951.7 689.5 960.0 689.0C968.3 688.5 982.3 688.0 990.0 687.3C997.7 686.6 1000.9 686.2 1006.3 684.9C1011.7 683.5 1017.2 681.0 1022.6 679.2C1028.0 677.4 1033.5 675.4 1038.9 674.3C1044.3 673.1 1048.4 673.0 1055.2 672.3C1062.0 671.6 1074.2 671.5 1079.6 670.2C1085.0 668.9 1085.1 665.8 1087.8 664.5C1090.5 663.2 1093.7 663.2 1095.9 662.5C1098.1 661.8 1099.8 661.6 1100.8 660.4C1101.8 659.2 1101.9 656.3 1102.1 655.5" fill="none" stroke="#dd1111" stroke-width="3" stroke-linejoin="round"/><path d="M771.7 816.5L772.5 815.9L773.4 814.1L774.2 808.6L775.0 805.9L775.5 810.1L775.9 811.2L776.4 816.7L776.9 817.6L777.4 818.8L777.8 820.3L778.3 822.8L778.9 817.6L779.5 817.9L780.2 814.4L780.8 817.8L781.4 810.3L782.0 813.8L782.7 807.1L783.3 809.6L784.0 808.9L784.8 811.0L785.5 815.6L786.3 811.7L787.0 813.6L787.8 821.1L788.5 820.0L789.3 818.9L790.0 826.6L790.6 828.0L791.1 824.0L791.7 827.8L792.1 824.2L792.5 823.7L792.9 824.1L793.4 819.4L793.8 821.3L794.2 815.3L794.6 814.4L795.0 817.1L795.4 816.0L795.8 817.8L796.2 820.6L796.6 821.5L797.1 822.5L797.5 821.8L797.9 828.2L798.3 831.5L799.0 829.9L799.7 826.1L800.4 822.4L801.2 820.7L801.9 821.3L802.6 819.5L803.3 814.1L804.3 816.6L805.3 819.1L806.3 821.8L807.3 825.4L808.3 825.0L808.8 820.1L809.3 823.9L809.8 819.5L810.2 818.4L810.7 814.8L811.2 814.5L811.7 812.5L812.6 816.8L813.6 813.9L814.5 818.7L815.5 817.8L816.4 823.0L817.4 820.2L818.3 823.5L818.9 822.3L819.4 822.6L820.0 817.0L820.5 818.1L821.1 814.7L821.6 813.5L822.2 813.2L822.7 814.8L823.3 809.9L823.9 814.8L824.4 811.1L825.0 817.9L825.6 815.7L826.1 816.2L826.7 821.7L826.9 820.9L827.2 812.8L827.4 812.7L827.6 814.2L827.8 809.4L828.1 806.8L828.3 803.4L829.4 801.9L830.6 804.2L831.7 805.0L832.5 806.7L833.4 805.0L834.2 803.4L835.0 807.1L835.5 808.6L835.9 807.2L836.4 804.3L836.9 799.8L837.4 800.2L837.8 798.2L838.3 797.6L839.1 796.7L840.0 803.0L840.9 804.3L841.7 801.0L842.0 800.1L842.4 802.2L842.7 796.3L843.0 799.0L843.4 794.3L843.7 793.7L844.0 791.9L844.3 786.7L844.7 785.4L845.0 783.3L846.2 787.5L847.5 788.8L848.8 786.2L850.0 792.6L850.7 787.8L851.3 784.9L852.0 784.6L852.6 786.6L853.3 782.1L855.0 780.8L856.7 781.2L858.4 782.3L860.0 781.8L860.3 781.1L860.7 783.9L861.0 787.7L861.3 788.6L861.6 788.9L862.0 789.0L862.3 790.8L862.6 795.0L863.0 795.5L863.3 793.4L865.0 797.0L866.6 797.2L868.3 795.3L870.0 794.9L871.6 793.9L873.3 790.2L874.5 790.7L875.8 786.7L877.0 783.5L878.3 784.0L879.3 785.4L880.3 791.3L881.3 791.3L882.3 791.9L883.3 794.1L885.0 789.4L886.6 790.8L888.3 790.6L888.9 790.3L889.4 791.1L890.0 794.0L890.6 795.2L891.1 799.5L891.7 797.6L893.4 796.1L895.0 796.5L896.7 798.0L898.9 799.0L901.1 798.9L903.3 801.3L905.0 796.4L906.7 793.1L908.3 795.2L910.0 793.9L911.7 791.1L912.1 796.1L912.5 795.6L912.9 796.5L913.4 798.8L913.8 804.7L914.2 800.0L914.6 804.1L915.0 805.2L915.8 806.3L916.7 809.6L917.5 809.8L918.3 816.2L919.2 815.0L920.0 818.0L920.4 812.7L920.8 813.1L921.2 812.4L921.6 812.3L922.1 806.6L922.5 806.4L922.9 807.4L923.3 805.6L925.0 800.6L926.6 801.9L928.3 802.6L930.0 799.3L930.4 802.8L930.8 804.4L931.2 808.2L931.6 807.0L932.1 809.5L932.5 809.0L932.9 813.2L933.3 812.1L934.0 811.6L934.6 809.0L935.3 807.0L936.0 804.2L936.6 803.1L937.3 803.6L938.0 800.0L938.7 796.9L939.3 800.4L940.0 795.2L940.6 801.3L941.2 800.7L941.9 800.9L942.5 805.9L943.1 807.7L943.8 805.5L944.4 805.8L945.0 811.0L945.5 810.7L946.0 807.4L946.5 806.9L947.0 802.7L947.5 802.5L948.0 798.4L948.5 797.7L949.0 795.8L949.5 794.2L950.0 792.6L950.4 797.1L950.8 794.4L951.2 796.3L951.5 798.4L951.9 804.9L952.3 803.6L952.7 802.1L953.1 809.1L953.5 811.0L953.8 812.3L954.2 810.9L954.6 815.1L955.0 813.9L955.5 810.9L956.0 814.0L956.5 812.0L957.0 805.9L957.5 808.6L958.0 801.0L958.5 801.1L959.6 800.5L960.8 803.0L961.9 804.4L963.1 809.5L964.2 808.1L964.9 805.7L965.6 804.1L966.3 803.3L967.0 805.4L967.7 802.0L968.4 796.9L969.0 802.5L969.6 803.1L970.2 804.1L970.9 806.2L971.5 808.7L972.1 811.3L972.7 810.9L973.4 810.2L974.1 807.5L974.8 807.0L975.5 803.8L976.2 802.4L976.9 801.5L977.6 801.2L978.3 796.7L978.5 803.0L978.8 801.9L979.0 806.3L979.2 807.0L979.5 810.7L979.7 810.7L980.4 807.4L981.1 805.7L981.8 805.4L982.5 804.8L983.3 803.8L984.0 797.4L984.7 795.3L985.4 794.0L986.1 792.1L986.8 790.2L987.5 788.1L988.2 788.0L990.4 786.3L992.5 789.5L993.1 790.6L993.7 794.6L994.3 796.2L994.9 796.4L995.5 799.4L996.1 794.8L996.7 797.7L997.2 800.7L997.8 795.9L998.3 792.3L998.9 794.2L999.4 790.2L999.9 789.2L1000.5 785.9L1001.0 783.6L1002.4 781.2L1003.8 783.3L1005.2 784.3L1006.6 785.4L1008.1 784.9L1009.5 786.9L1010.9 781.6L1012.4 779.8L1013.8 782.6L1015.2 779.0L1015.8 781.3L1016.4 778.6L1017.0 781.9L1017.6 785.5L1018.2 789.0L1018.8 791.5L1019.4 792.8L1020.5 788.6L1021.7 787.5L1022.8 789.3L1024.0 788.7L1025.1 783.9L1026.2 783.6L1027.3 788.2L1028.5 789.3L1029.6 789.9L1030.7 790.7L1032.6 791.3L1034.5 792.3L1036.4 788.6L1037.8 792.8L1039.3 797.0L1040.7 797.0L1042.4 793.9L1044.1 795.3L1045.8 793.4L1047.5 798.0L1049.2 797.6L1050.2 795.9L1051.3 799.9L1052.4 801.6L1053.4 802.9L1053.8 799.9L1054.2 797.8L1054.6 796.4L1055.0 799.1L1055.4 792.9L1055.7 792.4L1056.1 790.4L1056.5 786.8L1056.9 786.7L1057.3 783.7L1057.7 782.8L1059.1 784.5L1060.5 785.8L1061.9 791.3L1063.3 788.3L1064.7 787.6L1066.2 788.8L1067.6 786.1L1068.2 788.6L1068.8 791.3L1069.5 789.1L1070.1 794.9L1070.7 792.8L1071.3 795.5L1072.0 801.0L1072.6 804.0L1073.2 803.6L1073.9 798.5L1074.6 798.6L1075.3 795.8L1076.0 797.9L1076.8 792.1L1077.5 790.1L1078.2 791.4L1078.9 789.7L1079.6 787.7L1080.3 785.3L1080.8 790.3L1081.3 788.6L1081.7 793.6L1082.2 791.6L1082.7 793.8L1083.2 794.8L1083.6 799.0L1084.1 801.0L1084.6 799.2L1085.1 799.4L1085.6 799.0L1086.2 795.7L1086.7 795.0L1087.2 792.9L1087.8 791.8L1088.3 787.6L1088.8 785.5L1089.8 782.2L1090.8 786.6L1091.8 784.5L1092.9 780.4L1093.9 782.9L1094.9 781.1L1095.9 774.5L1096.2 780.9L1096.5 779.8L1096.8 780.8L1097.1 782.2L1097.5 785.0L1097.8 784.3L1098.1 786.0L1098.4 788.2L1098.7 791.2L1099.2 788.5L1099.7 786.6L1100.2 789.8L1100.6 785.1L1101.1 784.2L1101.6 783.3L1102.6 787.3L1103.7 783.7L1104.8 786.1L1105.8 789.7" fill="none" stroke="#1212e0" stroke-width="3.6" stroke-linejoin="round"/><path d="M825.8 819.2C828.7 819.2 837.6 819.5 843.3 819.2C849.0 818.9 854.4 818.3 860.0 817.5C865.6 816.7 871.2 815.2 876.7 814.2C882.2 813.2 887.8 812.5 893.3 811.7C898.8 811.0 904.4 810.2 910.0 809.7C915.6 809.2 921.2 809.0 926.7 808.7C932.2 808.4 937.0 808.1 943.3 808.0C949.5 807.9 956.0 808.1 964.2 807.8C972.4 807.5 983.1 807.3 992.5 806.4C1001.9 805.5 1011.3 803.6 1020.8 802.4C1030.2 801.1 1040.9 799.8 1049.2 798.9C1057.5 798.0 1065.7 797.7 1070.4 796.7C1075.1 795.8 1074.9 794.5 1077.5 793.2C1080.1 791.9 1084.6 789.7 1086.0 789.0" fill="none" stroke="#ee22ee" stroke-width="3" stroke-linejoin="round"/><g font-family='"Liberation Serif", serif' font-weight="bold" font-size="20.5"><text x="840.4" y="502.7">Mn<tspan font-size="14" dy="-9.5">4+</tspan><tspan dy="9.5"> 2p3/2</tspan></text><text x="984.6" y="578.0">Mn<tspan font-size="14" dy="-9.5">4+</tspan><tspan dy="9.5"> 2p1/2</tspan></text><text x="824.2" y="772.5">Mn<tspan font-size="14" dy="-9.5">4+</tspan><tspan dy="9.5"> 2p3/2</tspan></text><text x="976.2" y="774.8">Mn<tspan font-size="14" dy="-9.5">4+</tspan><tspan dy="9.5"> 2p1/2</tspan></text><text x="662" y="583.6" font-size="21">MnO<tspan font-size="14" dy="6">2</tspan><tspan dy="-6" font-weight="normal">@</tspan>NPG/Ni foam</text><text x="693.3" y="802" font-size="21">MnO<tspan font-size="14" dy="6">2</tspan><tspan dy="-6">/Ni foam</tspan></text></g><defs><filter id="sh" x="-30%" y="-30%" width="160%" height="160%"><feGaussianBlur in="SourceAlpha" stdDeviation="1.2"/><feOffset dx="2" dy="2" result="o"/><feComponentTransfer><feFuncA type="linear" slope="0.5"/></feComponentTransfer><feMerge><feMergeNode/><feMergeNode in="SourceGraphic"/></feMerge></filter></defs><g font-family='"Liberation Sans", sans-serif' font-size="48" filter="url(#sh)"><text x="612.2" y="47.5">b</text><text x="4.2" y="500.5">c</text><text x="610.7" y="500.3">d</text><path d="M9.3 26.2C11.3 25 13.6 24.6 16.3 24.6C20.8 24.6 23.2 26.6 23.2 31V47.8M23.2 35.2H17.2C11.8 35.2 9.2 37.6 9.2 41C9.2 44.2 11.4 45.9 14.4 45.9C17.9 45.9 21.4 44.2 23.2 41.2" fill="none" stroke="#000" stroke-width="3.8"/></g></svg></body></html>
